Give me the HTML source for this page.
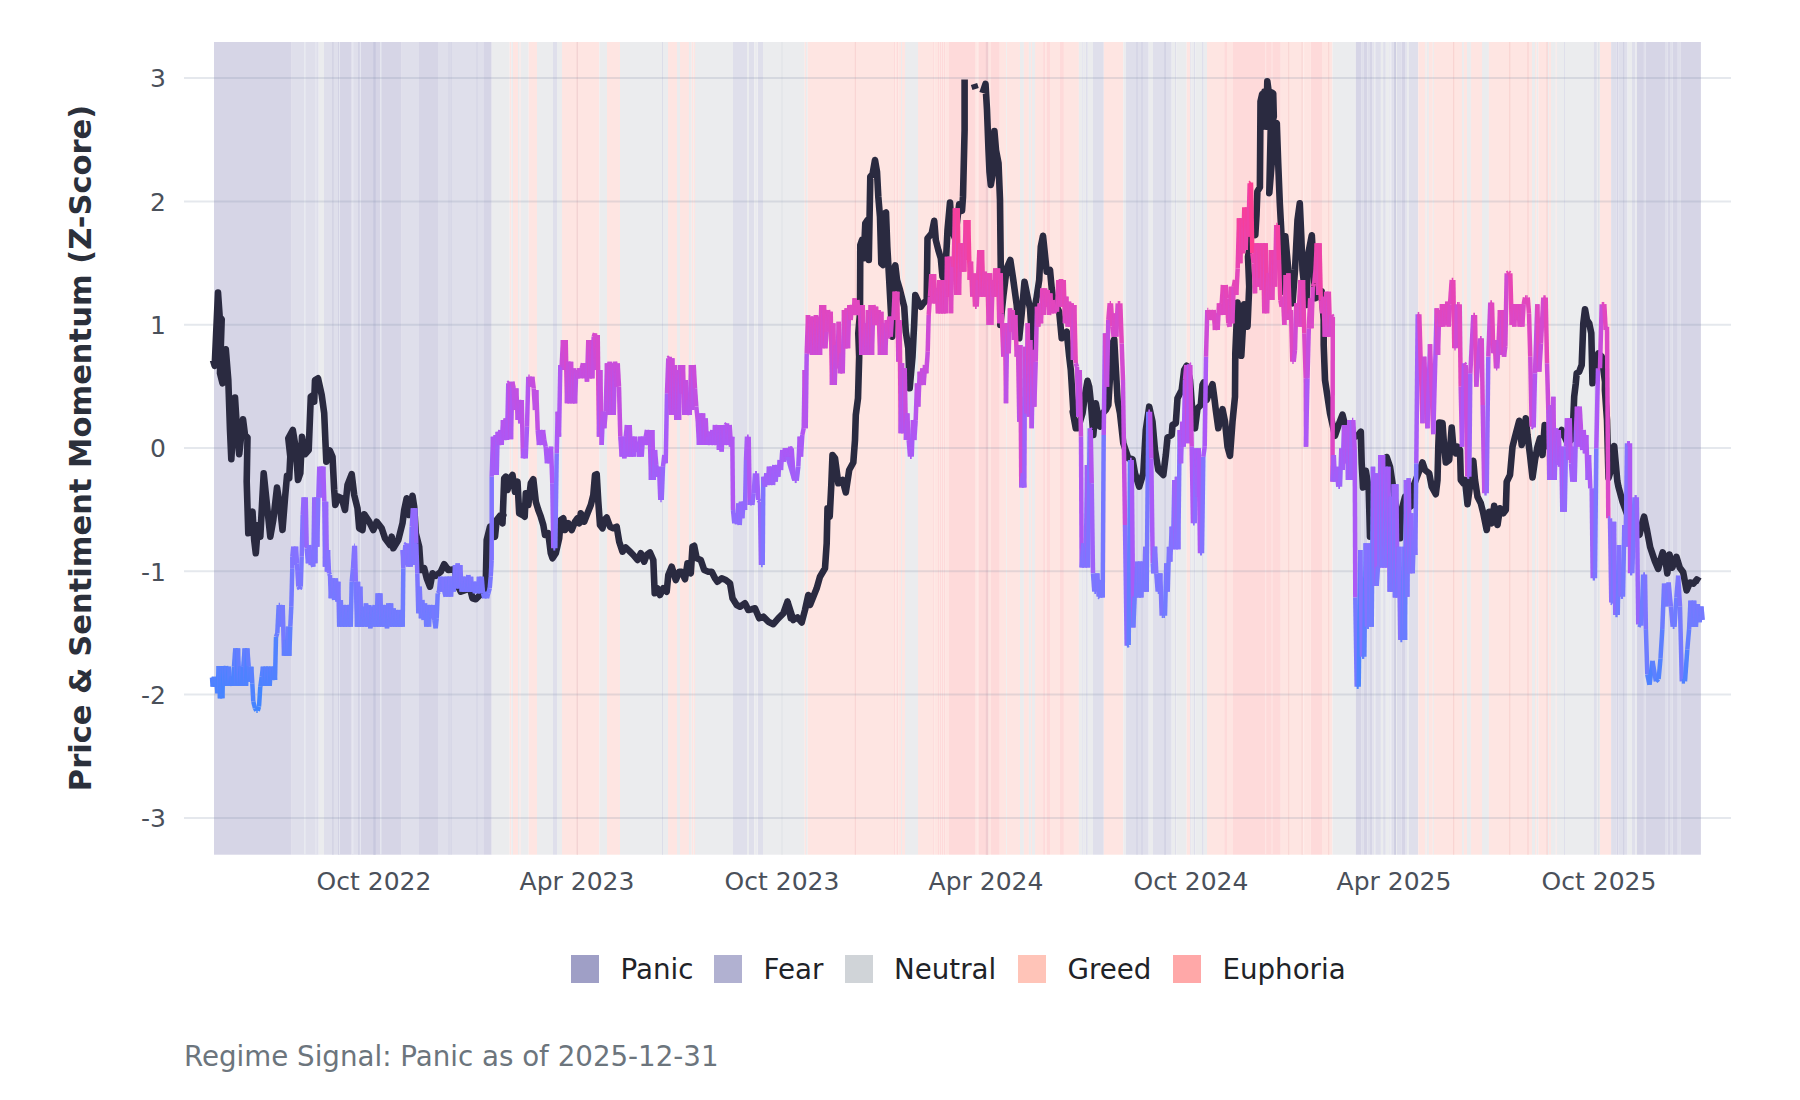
<!DOCTYPE html><html><head><meta charset="utf-8"><title>Regime Signal</title><style>html,body{margin:0;padding:0;background:#fff}body{width:1800px;height:1100px;position:relative;overflow:hidden}</style></head><body><svg width="1800" height="1100" viewBox="0 0 1800 1100" style="position:absolute;left:0;top:0">
<rect width="1800" height="1100" fill="#fff"/>
<g >
<rect x="214" y="42" width="77.7" height="812.7" fill="#d6d5e6"/>
<rect x="291.7" y="42" width="27" height="812.7" fill="#dfdfeb"/>
<rect x="318.7" y="42" width="5.3" height="812.7" fill="#ebecee"/>
<rect x="324" y="42" width="14.3" height="812.7" fill="#dfdfeb"/>
<rect x="338.3" y="42" width="13.4" height="812.7" fill="#d6d5e6"/>
<rect x="351.7" y="42" width="9.1" height="812.7" fill="#dfdfeb"/>
<rect x="360.8" y="42" width="40.9" height="812.7" fill="#d6d5e6"/>
<rect x="401.7" y="42" width="17.3" height="812.7" fill="#dfdfeb"/>
<rect x="419" y="42" width="19" height="812.7" fill="#d6d5e6"/>
<rect x="438" y="42" width="45.3" height="812.7" fill="#dfdfeb"/>
<rect x="483.3" y="42" width="8.4" height="812.7" fill="#d6d5e6"/>
<rect x="491.7" y="42" width="18" height="812.7" fill="#ebecee"/>
<rect x="509.7" y="42" width="1.6" height="812.7" fill="#fee5e2"/>
<rect x="511.3" y="42" width="1.7" height="812.7" fill="#ebecee"/>
<rect x="513" y="42" width="5" height="812.7" fill="#fee5e2"/>
<rect x="518" y="42" width="1.7" height="812.7" fill="#ebecee"/>
<rect x="519.7" y="42" width="1" height="812.7" fill="#fee5e2"/>
<rect x="520.7" y="42" width="8" height="812.7" fill="#ebecee"/>
<rect x="528.7" y="42" width="8.3" height="812.7" fill="#fee5e2"/>
<rect x="537" y="42" width="16" height="812.7" fill="#ebecee"/>
<rect x="553" y="42" width="4" height="812.7" fill="#dfdfeb"/>
<rect x="557" y="42" width="5" height="812.7" fill="#ebecee"/>
<rect x="562" y="42" width="37.3" height="812.7" fill="#fee5e2"/>
<rect x="599.3" y="42" width="7.7" height="812.7" fill="#ebecee"/>
<rect x="607" y="42" width="13" height="812.7" fill="#fee5e2"/>
<rect x="620" y="42" width="48" height="812.7" fill="#ebecee"/>
<rect x="668" y="42" width="9" height="812.7" fill="#fee5e2"/>
<rect x="677" y="42" width="3" height="812.7" fill="#ebecee"/>
<rect x="680" y="42" width="9" height="812.7" fill="#fee5e2"/>
<rect x="689" y="42" width="2.7" height="812.7" fill="#ebecee"/>
<rect x="691.7" y="42" width="1.3" height="812.7" fill="#fee5e2"/>
<rect x="693" y="42" width="0.7" height="812.7" fill="#ebecee"/>
<rect x="693.7" y="42" width="1.3" height="812.7" fill="#fee5e2"/>
<rect x="695" y="42" width="38" height="812.7" fill="#ebecee"/>
<rect x="733" y="42" width="14" height="812.7" fill="#dfdfeb"/>
<rect x="747" y="42" width="2" height="812.7" fill="#ebecee"/>
<rect x="749" y="42" width="5.2" height="812.7" fill="#dfdfeb"/>
<rect x="754.2" y="42" width="2.3" height="812.7" fill="#ebecee"/>
<rect x="756.5" y="42" width="0.7" height="812.7" fill="#dfdfeb"/>
<rect x="757.2" y="42" width="0.8" height="812.7" fill="#ebecee"/>
<rect x="758" y="42" width="5" height="812.7" fill="#dfdfeb"/>
<rect x="763" y="42" width="41.7" height="812.7" fill="#ebecee"/>
<rect x="804.7" y="42" width="1.3" height="812.7" fill="#fee5e2"/>
<rect x="806" y="42" width="1.7" height="812.7" fill="#ebecee"/>
<rect x="807.7" y="42" width="86.3" height="812.7" fill="#fee5e2"/>
<rect x="894" y="42" width="1.3" height="812.7" fill="#fedada"/>
<rect x="895.3" y="42" width="1.7" height="812.7" fill="#fee5e2"/>
<rect x="897" y="42" width="1.2" height="812.7" fill="#fedada"/>
<rect x="898.2" y="42" width="2.8" height="812.7" fill="#fee5e2"/>
<rect x="901" y="42" width="1" height="812.7" fill="#ebecee"/>
<rect x="902" y="42" width="3" height="812.7" fill="#fee5e2"/>
<rect x="905" y="42" width="13" height="812.7" fill="#ebecee"/>
<rect x="918" y="42" width="15.1" height="812.7" fill="#fee5e2"/>
<rect x="933.1" y="42" width="1.1" height="812.7" fill="#fedada"/>
<rect x="934.2" y="42" width="3.8" height="812.7" fill="#fee5e2"/>
<rect x="938" y="42" width="1" height="812.7" fill="#fedada"/>
<rect x="939" y="42" width="0.8" height="812.7" fill="#fee5e2"/>
<rect x="939.8" y="42" width="1.3" height="812.7" fill="#fedada"/>
<rect x="941.1" y="42" width="0.9" height="812.7" fill="#fee5e2"/>
<rect x="942" y="42" width="1.1" height="812.7" fill="#fedada"/>
<rect x="943.1" y="42" width="0.8" height="812.7" fill="#fee5e2"/>
<rect x="943.9" y="42" width="1.7" height="812.7" fill="#fedada"/>
<rect x="945.6" y="42" width="3.3" height="812.7" fill="#fee5e2"/>
<rect x="948.9" y="42" width="26.1" height="812.7" fill="#fedada"/>
<rect x="975" y="42" width="1.7" height="812.7" fill="#fee5e2"/>
<rect x="976.7" y="42" width="0.6" height="812.7" fill="#fedada"/>
<rect x="977.3" y="42" width="1.6" height="812.7" fill="#fee5e2"/>
<rect x="978.9" y="42" width="9.4" height="812.7" fill="#fedada"/>
<rect x="988.3" y="42" width="2.6" height="812.7" fill="#fee5e2"/>
<rect x="990.9" y="42" width="8.9" height="812.7" fill="#fedada"/>
<rect x="999.8" y="42" width="6.3" height="812.7" fill="#fee5e2"/>
<rect x="1006.1" y="42" width="0.8" height="812.7" fill="#ebecee"/>
<rect x="1006.9" y="42" width="13.1" height="812.7" fill="#fee5e2"/>
<rect x="1020" y="42" width="3.9" height="812.7" fill="#ebecee"/>
<rect x="1023.9" y="42" width="5" height="812.7" fill="#fee5e2"/>
<rect x="1028.9" y="42" width="2" height="812.7" fill="#ebecee"/>
<rect x="1030.9" y="42" width="1.1" height="812.7" fill="#fee5e2"/>
<rect x="1032" y="42" width="3" height="812.7" fill="#ebecee"/>
<rect x="1035" y="42" width="8.1" height="812.7" fill="#fee5e2"/>
<rect x="1043.1" y="42" width="2.5" height="812.7" fill="#fedada"/>
<rect x="1045.6" y="42" width="1.3" height="812.7" fill="#fee5e2"/>
<rect x="1046.9" y="42" width="3.1" height="812.7" fill="#fedada"/>
<rect x="1050" y="42" width="10" height="812.7" fill="#fee5e2"/>
<rect x="1060" y="42" width="3.9" height="812.7" fill="#fedada"/>
<rect x="1063.9" y="42" width="15" height="812.7" fill="#fee5e2"/>
<rect x="1078.9" y="42" width="3.1" height="812.7" fill="#ebecee"/>
<rect x="1082" y="42" width="0.8" height="812.7" fill="#dfdfeb"/>
<rect x="1082.8" y="42" width="1.1" height="812.7" fill="#ebecee"/>
<rect x="1083.9" y="42" width="0.8" height="812.7" fill="#dfdfeb"/>
<rect x="1084.7" y="42" width="1.3" height="812.7" fill="#ebecee"/>
<rect x="1086" y="42" width="1.8" height="812.7" fill="#dfdfeb"/>
<rect x="1087.8" y="42" width="5.2" height="812.7" fill="#ebecee"/>
<rect x="1093" y="42" width="10.8" height="812.7" fill="#dfdfeb"/>
<rect x="1103.8" y="42" width="19.5" height="812.7" fill="#fee5e2"/>
<rect x="1123.3" y="42" width="2.5" height="812.7" fill="#ebecee"/>
<rect x="1125.8" y="42" width="22.9" height="812.7" fill="#dfdfeb"/>
<rect x="1148.7" y="42" width="4.3" height="812.7" fill="#ebecee"/>
<rect x="1153" y="42" width="18.7" height="812.7" fill="#dfdfeb"/>
<rect x="1171.7" y="42" width="3.3" height="812.7" fill="#ebecee"/>
<rect x="1175" y="42" width="1.3" height="812.7" fill="#dfdfeb"/>
<rect x="1176.3" y="42" width="10.4" height="812.7" fill="#ebecee"/>
<rect x="1186.7" y="42" width="3.6" height="812.7" fill="#fee5e2"/>
<rect x="1190.3" y="42" width="1.2" height="812.7" fill="#dfdfeb"/>
<rect x="1191.5" y="42" width="2.2" height="812.7" fill="#ebecee"/>
<rect x="1193.7" y="42" width="1.6" height="812.7" fill="#dfdfeb"/>
<rect x="1195.3" y="42" width="6.7" height="812.7" fill="#ebecee"/>
<rect x="1202" y="42" width="1.7" height="812.7" fill="#dfdfeb"/>
<rect x="1203.7" y="42" width="3.3" height="812.7" fill="#ebecee"/>
<rect x="1207" y="42" width="17.2" height="812.7" fill="#fee5e2"/>
<rect x="1224.2" y="42" width="2.8" height="812.7" fill="#fedada"/>
<rect x="1227" y="42" width="6" height="812.7" fill="#fee5e2"/>
<rect x="1233" y="42" width="47.8" height="812.7" fill="#fedada"/>
<rect x="1280.8" y="42" width="30" height="812.7" fill="#fee5e2"/>
<rect x="1310.8" y="42" width="11.2" height="812.7" fill="#fedada"/>
<rect x="1322" y="42" width="10.5" height="812.7" fill="#fee5e2"/>
<rect x="1332.5" y="42" width="23.4" height="812.7" fill="#ebecee"/>
<rect x="1355.9" y="42" width="5.2" height="812.7" fill="#d6d5e6"/>
<rect x="1361.1" y="42" width="2.8" height="812.7" fill="#dfdfeb"/>
<rect x="1363.9" y="42" width="3.3" height="812.7" fill="#d6d5e6"/>
<rect x="1367.2" y="42" width="2.8" height="812.7" fill="#dfdfeb"/>
<rect x="1370" y="42" width="2.2" height="812.7" fill="#d6d5e6"/>
<rect x="1372.2" y="42" width="1.7" height="812.7" fill="#dfdfeb"/>
<rect x="1373.9" y="42" width="1.4" height="812.7" fill="#ebecee"/>
<rect x="1375.3" y="42" width="5.6" height="812.7" fill="#dfdfeb"/>
<rect x="1380.9" y="42" width="2.2" height="812.7" fill="#ebecee"/>
<rect x="1383.1" y="42" width="2.7" height="812.7" fill="#dfdfeb"/>
<rect x="1385.8" y="42" width="3.6" height="812.7" fill="#ebecee"/>
<rect x="1389.4" y="42" width="1.1" height="812.7" fill="#dfdfeb"/>
<rect x="1390.5" y="42" width="0.8" height="812.7" fill="#ebecee"/>
<rect x="1391.3" y="42" width="2.6" height="812.7" fill="#dfdfeb"/>
<rect x="1393.9" y="42" width="1.7" height="812.7" fill="#d6d5e6"/>
<rect x="1395.6" y="42" width="1.3" height="812.7" fill="#ebecee"/>
<rect x="1396.9" y="42" width="4.8" height="812.7" fill="#dfdfeb"/>
<rect x="1401.7" y="42" width="3.9" height="812.7" fill="#d6d5e6"/>
<rect x="1405.6" y="42" width="1.3" height="812.7" fill="#dfdfeb"/>
<rect x="1406.9" y="42" width="2" height="812.7" fill="#ebecee"/>
<rect x="1408.9" y="42" width="9.4" height="812.7" fill="#dfdfeb"/>
<rect x="1418.3" y="42" width="6.7" height="812.7" fill="#fee5e2"/>
<rect x="1425" y="42" width="0.8" height="812.7" fill="#ebecee"/>
<rect x="1425.8" y="42" width="0.9" height="812.7" fill="#fee5e2"/>
<rect x="1426.7" y="42" width="2.2" height="812.7" fill="#ebecee"/>
<rect x="1428.9" y="42" width="3.9" height="812.7" fill="#fee5e2"/>
<rect x="1432.8" y="42" width="1.1" height="812.7" fill="#ebecee"/>
<rect x="1433.9" y="42" width="28.1" height="812.7" fill="#fee5e2"/>
<rect x="1462" y="42" width="1.9" height="812.7" fill="#ebecee"/>
<rect x="1463.9" y="42" width="3.1" height="812.7" fill="#fee5e2"/>
<rect x="1467" y="42" width="3.9" height="812.7" fill="#ebecee"/>
<rect x="1470.9" y="42" width="11.1" height="812.7" fill="#fee5e2"/>
<rect x="1482" y="42" width="6.9" height="812.7" fill="#ebecee"/>
<rect x="1488.9" y="42" width="43.1" height="812.7" fill="#fee5e2"/>
<rect x="1532" y="42" width="3" height="812.7" fill="#ebecee"/>
<rect x="1535" y="42" width="1.7" height="812.7" fill="#fee5e2"/>
<rect x="1536.7" y="42" width="1.6" height="812.7" fill="#ebecee"/>
<rect x="1538.3" y="42" width="8.9" height="812.7" fill="#fee5e2"/>
<rect x="1547.2" y="42" width="1.7" height="812.7" fill="#ebecee"/>
<rect x="1548.9" y="42" width="2.1" height="812.7" fill="#fee5e2"/>
<rect x="1551" y="42" width="4.8" height="812.7" fill="#ebecee"/>
<rect x="1555.8" y="42" width="0.9" height="812.7" fill="#fee5e2"/>
<rect x="1556.7" y="42" width="37.2" height="812.7" fill="#ebecee"/>
<rect x="1593.9" y="42" width="3" height="812.7" fill="#dfdfeb"/>
<rect x="1596.9" y="42" width="0.9" height="812.7" fill="#ebecee"/>
<rect x="1597.8" y="42" width="0.7" height="812.7" fill="#dfdfeb"/>
<rect x="1598.5" y="42" width="1.5" height="812.7" fill="#ebecee"/>
<rect x="1600" y="42" width="11.1" height="812.7" fill="#fee5e2"/>
<rect x="1611.1" y="42" width="5.6" height="812.7" fill="#dfdfeb"/>
<rect x="1616.7" y="42" width="1.6" height="812.7" fill="#d6d5e6"/>
<rect x="1618.3" y="42" width="9.3" height="812.7" fill="#dfdfeb"/>
<rect x="1627.6" y="42" width="4.4" height="812.7" fill="#ebecee"/>
<rect x="1632" y="42" width="3.6" height="812.7" fill="#dfdfeb"/>
<rect x="1635.6" y="42" width="1.3" height="812.7" fill="#ebecee"/>
<rect x="1636.9" y="42" width="7" height="812.7" fill="#d6d5e6"/>
<rect x="1643.9" y="42" width="1.9" height="812.7" fill="#dfdfeb"/>
<rect x="1645.8" y="42" width="19.2" height="812.7" fill="#d6d5e6"/>
<rect x="1665" y="42" width="2.8" height="812.7" fill="#dfdfeb"/>
<rect x="1667.8" y="42" width="2.2" height="812.7" fill="#d6d5e6"/>
<rect x="1670" y="42" width="2.8" height="812.7" fill="#dfdfeb"/>
<rect x="1672.8" y="42" width="5" height="812.7" fill="#d6d5e6"/>
<rect x="1677.8" y="42" width="3.1" height="812.7" fill="#dfdfeb"/>
<rect x="1680.9" y="42" width="20" height="812.7" fill="#d6d5e6"/>
<rect x="304.3" y="42" width="1.2" height="812.7" fill="#eceef3"/>
<rect x="315.4" y="42" width="1" height="812.7" fill="#e9eaf2"/>
<rect x="352" y="42" width="1.6" height="812.7" fill="#e6e7f0"/>
<rect x="380.2" y="42" width="1.2" height="812.7" fill="#e9eaf2"/>
<rect x="359.9" y="42" width="1" height="812.7" fill="#e6e7f0"/>
<rect x="339" y="42" width="0.9" height="812.7" fill="#e6e7f0"/>
<rect x="332.3" y="42" width="1.2" height="812.7" fill="#cfcfe2"/>
<rect x="373.3" y="42" width="2.4" height="812.7" fill="#c8c8de"/>
<rect x="358.2" y="42" width="1.4" height="812.7" fill="#d0d0e3"/>
<rect x="338.2" y="42" width="0.8" height="812.7" fill="#d0d0e3"/>
<rect x="448.5" y="42" width="1" height="812.7" fill="#d3d3e5"/>
<rect x="450.6" y="42" width="1" height="812.7" fill="#d3d3e5"/>
<rect x="476.5" y="42" width="1" height="812.7" fill="#d3d3e5"/>
<rect x="576.6" y="42" width="1.4" height="812.7" fill="#f3d3d3"/>
<rect x="662" y="42" width="1" height="812.7" fill="#dcdde8"/>
<rect x="781.5" y="42" width="1" height="812.7" fill="#dfe1e6"/>
<rect x="854.8" y="42" width="1" height="812.7" fill="#f8d2d0"/>
<rect x="985.8" y="42" width="2.5" height="812.7" fill="#f0ccd0"/>
<rect x="1136.5" y="42" width="1" height="812.7" fill="#d0d0e3"/>
<rect x="1141.5" y="42" width="1" height="812.7" fill="#d0d0e3"/>
<rect x="1164.3" y="42" width="1.5" height="812.7" fill="#d0d0e3"/>
<rect x="1265.2" y="42" width="1" height="812.7" fill="#fde8e6"/>
<rect x="1271.5" y="42" width="1" height="812.7" fill="#fde8e6"/>
<rect x="1288.2" y="42" width="1" height="812.7" fill="#f8d4d2"/>
<rect x="1301.6" y="42" width="1" height="812.7" fill="#f8d4d2"/>
<rect x="1303.2" y="42" width="1" height="812.7" fill="#feeeec"/>
<rect x="1328.2" y="42" width="1" height="812.7" fill="#f8d4d2"/>
<rect x="1453.2" y="42" width="1" height="812.7" fill="#f8d0ce"/>
<rect x="1509.3" y="42" width="1" height="812.7" fill="#f8d0ce"/>
<rect x="1527.5" y="42" width="1" height="812.7" fill="#f8d0ce"/>
<rect x="1546.6" y="42" width="1" height="812.7" fill="#f8d0ce"/>
<rect x="1623.2" y="42" width="1" height="812.7" fill="#cfcfe2"/>
<rect x="1394.6" y="42" width="1.2" height="812.7" fill="#c8c8de"/>
<rect x="1564" y="42" width="0.8" height="812.7" fill="#dcdcea"/>
<rect x="1598.2" y="42" width="1" height="812.7" fill="#dde0e6"/>
</g>
<line x1="184" x2="1731" y1="817.9" y2="817.9" stroke="#7f8aa3" stroke-opacity="0.2" stroke-width="2"/>
<line x1="184" x2="1731" y1="694.6" y2="694.6" stroke="#7f8aa3" stroke-opacity="0.2" stroke-width="2"/>
<line x1="184" x2="1731" y1="571.3" y2="571.3" stroke="#7f8aa3" stroke-opacity="0.2" stroke-width="2"/>
<line x1="184" x2="1731" y1="448.0" y2="448.0" stroke="#7f8aa3" stroke-opacity="0.2" stroke-width="2"/>
<line x1="184" x2="1731" y1="324.7" y2="324.7" stroke="#7f8aa3" stroke-opacity="0.2" stroke-width="2"/>
<line x1="184" x2="1731" y1="201.4" y2="201.4" stroke="#7f8aa3" stroke-opacity="0.2" stroke-width="2"/>
<line x1="184" x2="1731" y1="78.1" y2="78.1" stroke="#7f8aa3" stroke-opacity="0.2" stroke-width="2"/>
<path d="M213 360L214.7 365.8L218 292.5L219.7 316.7L221.7 319.2L220.8 346.7L220 373.3L222.5 383.3L225.8 349.2L228.3 380L230 430L231.3 459.2L235 397.5L237 430L239.2 454.2L243 419.2L245 435L247.5 437.5L246.7 481.7L248.3 533.3L252.5 511.7L254.2 540L255.8 553.3L258 525L260.3 536.7L263.7 473.3L267.5 510L270.3 536.7L273.3 520L277 487.5L280 506.7L282.5 530L285 498.3L287 475.8L289.2 478.3L290.3 456.7L288.3 438.3L292.8 430L295.8 448.3L298 480L300.3 473.3L302 436.7L305 454.2L308.7 450L310.8 396.7L313.3 395L314.2 401.7L315 380L318 378.3L321.7 395L324.2 413.3L326.3 461.7L329.7 450.3L332.5 456.7L334.2 490L335.3 505L338.3 496.7L341.7 498.3L345 510L347.5 485L351.7 474.2L354.2 495L357.5 508.3L359.2 528.3L362.5 530L364.2 514.2L369.2 521.7L373.3 530L376.7 521.7L381.7 528.3L385 538.3L390 545L391.7 536.7L393.3 548.3L398.3 540L402.5 523.3L404.2 510L406.7 498.3L409.2 515L412.5 495.8L414.2 506.7L415.8 533.3L419.2 546.7L420.8 570L424.2 568.3L426.7 578.3L430 586.7L432.5 573.3L435.8 575.8L440.8 571.7L444.2 564.2L448.3 570L455 569.2L456.7 583.3L460.8 591.7L465.8 590L470 588.3L472.5 598.3L475.8 599.2L480 595L483.3 593.3L485.8 581.7L486.7 540L490 526.7L495 536.7L496.7 520L503.3 515L496.7 520L500 515.8L502.5 523.3L504.2 478.3L505.8 476.7L507.5 490L510 478.3L512.5 475L515 491.7L517.5 481.7L519.2 513.3L522.5 515L524.7 516.7L525.8 493.3L528.3 505L530.8 483.3L533.3 479.2L535.8 501.7L538.3 510L540.8 516.7L543.3 525L545 535L548.3 533.3L550.8 553.3L552.5 558.3L555.8 553.3L559.2 538.3L560.8 520L563.3 518.3L565 530L568.3 523.3L571.7 530L575 521.7L577.5 518.3L579.2 523.3L580.8 513.3L584.2 521.7L587.5 513.3L590.8 505L593.3 495L595 475L596.7 474.2L598.3 501.7L600 525L602.5 528.3L604.2 520L606.7 517.5L610 526.7L613.3 528.3L616.7 526.7L619.2 541.7L622.5 551.7L625.8 547.5L630 551.7L633.3 555L637.5 560L640.8 553.3L644.2 561.7L646.7 555L650 552.5L653.3 560L654.7 593.3L657.5 588.3L660 595L663.3 588.3L666.7 591.7L668.3 575L671.7 566.7L675.8 580L679.2 571.7L681.7 571.7L685 579.2L687.5 563.3L690.8 573.3L692.5 546.7L694.2 545.8L696.7 558.3L700.8 560L704.2 570L708.3 571.7L711.7 571.7L715 578.3L717.5 581.7L721.7 578.3L725.8 580L730 583.3L732.5 598.3L736.7 605L740 606.7L745 603.3L748.3 610L751.7 609.2L755 608.3L759.2 618.3L763.3 616.7L768.3 621.7L773.3 624.2L778.3 618.3L783.3 613.3L787.5 601.7L790.8 615L793.3 620L787.5 601.7L790.8 618.3L794.2 619.2L797.5 617.5L801.7 622.5L805 610L808.3 595L810 605L813.3 596.7L816.7 588.3L820 576.7L825 568.3L826.7 543.3L827.5 508.3L829.7 516.7L831.3 485L832.5 455L835 458.3L838.3 483.3L842.5 480L845.8 492.5L849.2 470L853.3 462.5L855 440L855.8 415L858 398.3L859.2 356.7L858.3 333.3L860 313.3L860.3 245L862 240L863.7 258.3L865.3 223.3L867.5 220L868.8 260L870.3 176.7L872.5 174.2L875 160L877 171.7L878.3 196.7L880 216.7L881.3 263.3L883 265L884.7 213.3L886 212.5L887.3 246.7L889.2 280L891 313.3L892.2 336.7L893.3 296.7L894.3 268.3L895.3 265.3L897 280L900 290L902.5 300L904.2 306.7L905.8 331.7L908.3 348.3L909.7 388.3L912.5 356.7L914.2 323.3L915.3 295L918.3 301.7L920.8 306.7L923.3 303.3L926.7 300L927.5 238.3L931.7 233.3L934.2 220.8L935.8 240L938.3 250L940.8 258.3L942.5 276.7L945 280L947.5 230L950 202.5L951.7 230L955 238.3L959.2 204.2L962 210.8L963 196.7L964.2 146.7L964.6 130L964.6 79.5M974 84L975.6 89M982.5 93L985.5 84L987 110L988.5 150L989.5 172L990.8 185L993 172L994.4 131L996 150L998.5 163L1000 200L1000.8 272L1000.3 325L1003.3 296.7L1006.7 268.3L1010.3 260L1013.3 280L1016.7 305L1019.2 338.3L1021.7 313.3L1024.5 281.7L1027.5 296.7L1030 308.3L1032.5 346.7L1035 306.7L1036.7 296.7L1039.2 280L1040.8 246.7L1043 235.8L1045 255L1046.7 271.7L1050 270L1051.7 288.3L1054.2 306.7L1055.8 305L1059.2 311.7L1061.7 338.3L1066.7 331.7L1069.2 356.7L1070.8 370L1073.3 410L1072.7 411.7L1075.8 428.3L1078 428.3L1082.5 413.3L1085 395L1087.5 380.8L1089.2 386.7L1090.8 401.7L1093.3 435L1095.8 403.3L1100 426.7L1102.5 413.3L1105.8 410L1108.3 405L1110.3 371.7L1112.5 343.3L1114.2 339.2L1116 371.7L1117.7 401.7L1120 413.3L1123.3 443.3L1128.3 458.3L1132.5 459.2L1135 473.3L1139.2 486.7L1143.3 473.3L1145.8 430L1149.2 406.7L1152.5 421.7L1155 450L1158.3 470L1163.3 475L1165.8 455L1167.5 437.5L1171.7 435L1172.5 425L1175.8 423.3L1177.5 398.3L1181.7 390L1184.2 370L1186.7 365.8L1190 380L1192.5 413.3L1195 428.3L1197.5 408.3L1200.8 405L1202.5 385L1203.7 382.5L1206.7 400L1210 390L1212.5 384.2L1214.2 396.7L1215.8 410L1218.3 428.3L1222.5 409.2L1225 421.7L1227.5 446.7L1230 455.8L1232.5 421.7L1235 396.7L1235.3 353.3L1237.5 302.5L1240 320L1241.3 355.8L1244.2 304.2L1247.5 326.7L1249.2 286.7L1248 256.7L1250 245L1252 230L1255.3 235L1256.5 214.7L1257.4 191.4L1259.9 187.3L1260.5 101.6L1262.2 94.1L1263.2 126.6L1264.5 91.6L1266.2 126.6L1267.3 81.3L1268.7 91.6L1269.5 126.6L1271.5 92.4L1273.2 93.3L1273.8 116.6L1270.7 129.9L1269.3 193.1L1272 159.8L1274.3 121.6L1276.8 123.2L1278.2 163.2L1279.8 203.1L1281.5 234.7L1283 291.7L1285.3 236.3L1288.3 270L1290.3 298.3L1292.5 303.3L1295 270L1297.5 220L1299.8 203.3L1301.3 236.7L1302.5 270L1306.3 305L1308.3 253.3L1311.8 235.3L1313.7 270L1315 298.3L1318.3 296.7L1321.7 291.3L1323.7 320L1323.7 345L1325 380L1330 413.3L1335 435.8L1339.2 423.3L1342.5 414.7L1345.8 428.3L1350 436.7L1355 436.7L1358.3 435L1360.8 431.7L1361.7 463.3L1363 487.5L1365.8 470.8L1368.7 488.3L1370 536.7L1370 536.7L1375 530L1381.7 480L1386.7 457L1390 466.7L1392.5 483.3L1396.7 513.3L1400 538.3L1400.8 513.3L1405 496.7L1410 506.7L1412.5 505L1413.3 486.7L1418.3 473.3L1422.5 462.5L1425 470L1429.2 473.3L1431.7 486.7L1435.8 494.2L1437.5 480L1438.3 446.7L1439.2 422.5L1442.5 423L1444.2 446.7L1445.8 462.5L1449.2 460L1451.7 427.5L1453.3 446.7L1455.8 453.3L1457.5 446.7L1460 450L1460.8 480L1463.3 483.3L1465 480L1467.5 504.2L1470.8 480L1473.3 460.8L1475 480L1477.5 496.7L1480.8 503.3L1483.3 513.3L1486.7 530L1489.2 511.7L1491.7 523.3L1494.2 505.8L1497.5 525L1500 508.3L1503.3 513.3L1505.8 510L1506.7 481.7L1510 475L1512.5 446.7L1515 436.7L1519.2 420.8L1521.7 445L1525.8 418.3L1527.5 435L1530 455L1532.5 477.5L1535 460L1537.5 446.7L1540 438.3L1542.5 455L1544.7 425L1546.7 438.3L1548.3 446.7L1555 443.3L1561.7 430L1567.5 443.3L1572.5 438.3L1574.2 396.7L1575.8 383.3L1576.7 373.3L1579.2 371.7L1581.7 365L1583.3 323.3L1585 309.2L1587 320L1589.2 323.3L1591.3 333.3L1592.5 383.3L1595.8 365L1598.3 353.3L1601.7 356.7L1605 381.7L1604.9 390L1607 420L1608.5 478L1611 470L1614.2 446L1617.3 481L1618.4 486.6L1622.5 501.6L1627.5 515.5L1635.5 535.9L1639.5 534.8L1641.8 524.5L1644.1 516.6L1646.8 529.1L1650.2 547.3L1654.8 560.9L1658.2 568.9L1660.9 558.6L1662.7 552.3L1665.5 560.9L1667.3 573.4L1669.5 554.5L1672.3 567.7L1676.4 556.8L1679.8 567.7L1683.2 572.3L1686.6 590.5L1690 582.5L1693.4 583.6L1696.8 579.5L1699.8 581.4" fill="none" stroke="#2a2a40" stroke-width="6.6" stroke-linejoin="round" stroke-linecap="butt"/>
<g stroke-width="4.5" stroke-linecap="butt" fill="none"><line x1="212" y1="677.5" x2="212.7" y2="686.7" stroke="#5281ff"/><line x1="212.7" y1="686.7" x2="214" y2="676.7" stroke="#4d82ff"/><line x1="214" y1="676.7" x2="215" y2="686.7" stroke="#5381ff"/><line x1="215" y1="686.7" x2="216.3" y2="680" stroke="#4d82ff"/><line x1="216.3" y1="680" x2="217.5" y2="693.3" stroke="#5182ff"/><line x1="217.5" y1="693.3" x2="218.7" y2="666" stroke="#4a83ff"/><line x1="218.7" y1="666" x2="220" y2="698.3" stroke="#5980ff"/><line x1="220" y1="698.3" x2="221.3" y2="666" stroke="#4784ff"/><line x1="221.3" y1="666" x2="222.3" y2="698.3" stroke="#5980ff"/><line x1="222.3" y1="698.3" x2="223.3" y2="666" stroke="#4784ff"/><line x1="223.3" y1="666" x2="224.7" y2="685.8" stroke="#5980ff"/><line x1="224.7" y1="685.8" x2="226" y2="666" stroke="#4e82ff"/><line x1="226" y1="666" x2="227.3" y2="685.8" stroke="#5980ff"/><line x1="227.3" y1="685.8" x2="228.7" y2="666.7" stroke="#4e82ff"/><line x1="228.7" y1="666.7" x2="230" y2="685.8" stroke="#5980ff"/><line x1="230" y1="685.8" x2="231.3" y2="676.7" stroke="#4e82ff"/><line x1="231.3" y1="676.7" x2="232.7" y2="685.8" stroke="#5381ff"/><line x1="232.7" y1="685.8" x2="234" y2="666.7" stroke="#4e82ff"/><line x1="234" y1="666.7" x2="235.3" y2="648.3" stroke="#5980ff"/><line x1="235.3" y1="648.3" x2="236.7" y2="685.8" stroke="#637eff"/><line x1="236.7" y1="685.8" x2="238" y2="648.3" stroke="#4e82ff"/><line x1="238" y1="648.3" x2="239.3" y2="685.8" stroke="#637eff"/><line x1="239.3" y1="685.8" x2="240.7" y2="666.7" stroke="#4e82ff"/><line x1="240.7" y1="666.7" x2="242" y2="685.8" stroke="#5980ff"/><line x1="242" y1="685.8" x2="243.3" y2="666.7" stroke="#4e82ff"/><line x1="243.3" y1="666.7" x2="244.7" y2="648.3" stroke="#5980ff"/><line x1="244.7" y1="648.3" x2="246" y2="685.8" stroke="#637eff"/><line x1="246" y1="685.8" x2="247.3" y2="648.3" stroke="#4e82ff"/><line x1="247.3" y1="648.3" x2="248.7" y2="666.7" stroke="#637eff"/><line x1="248.7" y1="666.7" x2="250" y2="681.7" stroke="#5980ff"/><line x1="250" y1="681.7" x2="251.3" y2="666.7" stroke="#5082ff"/><line x1="251.3" y1="666.7" x2="252.3" y2="683.3" stroke="#5980ff"/><line x1="252.3" y1="683.3" x2="253.3" y2="701.7" stroke="#4f82ff"/><line x1="253.3" y1="701.7" x2="255" y2="708.3" stroke="#4584ff"/><line x1="255" y1="708.3" x2="256.3" y2="710.8" stroke="#4185ff"/><line x1="256.3" y1="710.8" x2="257.7" y2="710.8" stroke="#4085ff"/><line x1="257.7" y1="710.8" x2="259" y2="706.7" stroke="#4085ff"/><line x1="259" y1="706.7" x2="260.3" y2="686.7" stroke="#4285ff"/><line x1="260.3" y1="686.7" x2="261.7" y2="676.7" stroke="#4d82ff"/><line x1="261.7" y1="676.7" x2="263" y2="666.7" stroke="#5381ff"/><line x1="263" y1="666.7" x2="264.3" y2="685.8" stroke="#5980ff"/><line x1="264.3" y1="685.8" x2="265.7" y2="666.7" stroke="#4e82ff"/><line x1="265.7" y1="666.7" x2="267" y2="685.8" stroke="#5980ff"/><line x1="267" y1="685.8" x2="268.3" y2="666.7" stroke="#4e82ff"/><line x1="268.3" y1="666.7" x2="269.7" y2="685.8" stroke="#5980ff"/><line x1="269.7" y1="685.8" x2="271" y2="666.7" stroke="#4e82ff"/><line x1="271" y1="666.7" x2="272.3" y2="680" stroke="#5980ff"/><line x1="272.3" y1="680" x2="273.7" y2="666.7" stroke="#5182ff"/><line x1="273.7" y1="666.7" x2="275" y2="680" stroke="#5980ff"/><line x1="275" y1="680" x2="276" y2="636.7" stroke="#5182ff"/><line x1="276" y1="636.7" x2="277.3" y2="633.3" stroke="#697dff"/><line x1="277.3" y1="633.3" x2="278.7" y2="605" stroke="#6b7dff"/><line x1="278.7" y1="605" x2="280" y2="605" stroke="#7579ff"/><line x1="280" y1="605" x2="281.3" y2="626.7" stroke="#7579ff"/><line x1="281.3" y1="626.7" x2="282.7" y2="605" stroke="#6f7cff"/><line x1="282.7" y1="605" x2="284" y2="655.8" stroke="#7579ff"/><line x1="284" y1="655.8" x2="285.3" y2="640" stroke="#5f7fff"/><line x1="285.3" y1="640" x2="286.7" y2="655.8" stroke="#687dff"/><line x1="286.7" y1="655.8" x2="288" y2="626.7" stroke="#5f7fff"/><line x1="288" y1="626.7" x2="289.3" y2="655.8" stroke="#6f7cff"/><line x1="289.3" y1="655.8" x2="290.3" y2="626.7" stroke="#5f7fff"/><line x1="290.3" y1="626.7" x2="291.3" y2="606.7" stroke="#6f7cff"/><line x1="291.3" y1="606.7" x2="292.3" y2="568.3" stroke="#7479ff"/><line x1="292.3" y1="568.3" x2="292.3" y2="556.7" stroke="#7f74ff"/><line x1="292.3" y1="556.7" x2="293.3" y2="546.7" stroke="#8273ff"/><line x1="293.3" y1="546.7" x2="294.7" y2="565" stroke="#8572ff"/><line x1="294.7" y1="565" x2="296" y2="546.7" stroke="#8074ff"/><line x1="296" y1="546.7" x2="297" y2="563.3" stroke="#8572ff"/><line x1="297" y1="563.3" x2="298.3" y2="586.7" stroke="#8074ff"/><line x1="298.3" y1="586.7" x2="299.7" y2="589.2" stroke="#7a77ff"/><line x1="299.7" y1="589.2" x2="300.7" y2="586.7" stroke="#7977ff"/><line x1="300.7" y1="586.7" x2="301.7" y2="556.7" stroke="#7a77ff"/><line x1="301.7" y1="556.7" x2="302.7" y2="515" stroke="#8273ff"/><line x1="302.7" y1="515" x2="303.7" y2="497.5" stroke="#906bfd"/><line x1="303.7" y1="497.5" x2="304.7" y2="546.7" stroke="#9766fb"/><line x1="304.7" y1="546.7" x2="305.7" y2="497.5" stroke="#8572ff"/><line x1="305.7" y1="497.5" x2="306.7" y2="548.3" stroke="#9766fb"/><line x1="306.7" y1="548.3" x2="308" y2="563.3" stroke="#8472ff"/><line x1="308" y1="563.3" x2="309.3" y2="545" stroke="#8074ff"/><line x1="309.3" y1="545" x2="310.7" y2="565" stroke="#8571ff"/><line x1="310.7" y1="565" x2="312" y2="563.3" stroke="#8074ff"/><line x1="312" y1="563.3" x2="313.3" y2="566.7" stroke="#8074ff"/><line x1="313.3" y1="566.7" x2="314.3" y2="497.5" stroke="#7f74ff"/><line x1="314.3" y1="497.5" x2="315.3" y2="563.3" stroke="#9766fb"/><line x1="315.3" y1="563.3" x2="316.3" y2="497.5" stroke="#8074ff"/><line x1="316.3" y1="497.5" x2="317.3" y2="546.7" stroke="#9766fb"/><line x1="317.3" y1="546.7" x2="318.3" y2="497.5" stroke="#8572ff"/><line x1="318.3" y1="497.5" x2="319.3" y2="466.7" stroke="#9766fb"/><line x1="319.3" y1="466.7" x2="320.3" y2="497.5" stroke="#a45df8"/><line x1="320.3" y1="497.5" x2="321.3" y2="466.7" stroke="#9766fb"/><line x1="321.3" y1="466.7" x2="322.3" y2="484.2" stroke="#a45df8"/><line x1="322.3" y1="484.2" x2="323.3" y2="466.7" stroke="#9d62fa"/><line x1="323.3" y1="466.7" x2="324.3" y2="501.7" stroke="#a45df8"/><line x1="324.3" y1="501.7" x2="325" y2="566.7" stroke="#9667fc"/><line x1="325" y1="566.7" x2="326" y2="501.7" stroke="#7f74ff"/><line x1="326" y1="501.7" x2="327" y2="571.7" stroke="#9667fc"/><line x1="327" y1="571.7" x2="328" y2="550" stroke="#7e75ff"/><line x1="328" y1="550" x2="329" y2="573.3" stroke="#8472ff"/><line x1="329" y1="573.3" x2="330" y2="575" stroke="#7d75ff"/><line x1="330" y1="575" x2="330.8" y2="598.3" stroke="#7d75ff"/><line x1="330.8" y1="598.3" x2="332.5" y2="578.3" stroke="#7778ff"/><line x1="332.5" y1="578.3" x2="334.2" y2="600" stroke="#7c76ff"/><line x1="334.2" y1="600" x2="335.8" y2="578.3" stroke="#7679ff"/><line x1="335.8" y1="578.3" x2="337.5" y2="601.7" stroke="#7c76ff"/><line x1="337.5" y1="601.7" x2="338.3" y2="581.7" stroke="#7679ff"/><line x1="338.3" y1="581.7" x2="339.2" y2="626.7" stroke="#7b76ff"/><line x1="339.2" y1="626.7" x2="340.8" y2="600" stroke="#6f7cff"/><line x1="340.8" y1="600" x2="342" y2="626.7" stroke="#7679ff"/><line x1="342" y1="626.7" x2="343.3" y2="605" stroke="#6f7cff"/><line x1="343.3" y1="605" x2="345" y2="626.7" stroke="#7579ff"/><line x1="345" y1="626.7" x2="346.7" y2="605" stroke="#6f7cff"/><line x1="346.7" y1="605" x2="348.3" y2="626.7" stroke="#7579ff"/><line x1="348.3" y1="626.7" x2="349.7" y2="605" stroke="#6f7cff"/><line x1="349.7" y1="605" x2="350.8" y2="626.7" stroke="#7579ff"/><line x1="350.8" y1="626.7" x2="351.7" y2="581.7" stroke="#6f7cff"/><line x1="351.7" y1="581.7" x2="353" y2="568.3" stroke="#7b76ff"/><line x1="353" y1="568.3" x2="354.2" y2="545.8" stroke="#7f74ff"/><line x1="354.2" y1="545.8" x2="355" y2="545.8" stroke="#8571ff"/><line x1="355" y1="545.8" x2="355.8" y2="581.7" stroke="#8571ff"/><line x1="355.8" y1="581.7" x2="357" y2="626.7" stroke="#7b76ff"/><line x1="357" y1="626.7" x2="358" y2="581.7" stroke="#6f7cff"/><line x1="358" y1="581.7" x2="359.2" y2="626.7" stroke="#7b76ff"/><line x1="359.2" y1="626.7" x2="360.3" y2="586.7" stroke="#6f7cff"/><line x1="360.3" y1="586.7" x2="361.7" y2="626.7" stroke="#7a77ff"/><line x1="361.7" y1="626.7" x2="363.3" y2="606.7" stroke="#6f7cff"/><line x1="363.3" y1="606.7" x2="364.7" y2="626.7" stroke="#7479ff"/><line x1="364.7" y1="626.7" x2="366" y2="603.3" stroke="#6f7cff"/><line x1="366" y1="603.3" x2="367.5" y2="626.7" stroke="#7579ff"/><line x1="367.5" y1="626.7" x2="369.2" y2="605" stroke="#6f7cff"/><line x1="369.2" y1="605" x2="370.3" y2="628.3" stroke="#7579ff"/><line x1="370.3" y1="628.3" x2="371.7" y2="606.7" stroke="#6e7cff"/><line x1="371.7" y1="606.7" x2="373.3" y2="626.7" stroke="#7479ff"/><line x1="373.3" y1="626.7" x2="374.7" y2="605" stroke="#6f7cff"/><line x1="374.7" y1="605" x2="376.3" y2="626.7" stroke="#7579ff"/><line x1="376.3" y1="626.7" x2="377.7" y2="593.3" stroke="#6f7cff"/><line x1="377.7" y1="593.3" x2="379" y2="626.7" stroke="#7878ff"/><line x1="379" y1="626.7" x2="380.3" y2="593.3" stroke="#6f7cff"/><line x1="380.3" y1="593.3" x2="381.7" y2="626.7" stroke="#7878ff"/><line x1="381.7" y1="626.7" x2="383" y2="605" stroke="#6f7cff"/><line x1="383" y1="605" x2="384.3" y2="626.7" stroke="#7579ff"/><line x1="384.3" y1="626.7" x2="385.7" y2="605" stroke="#6f7cff"/><line x1="385.7" y1="605" x2="387" y2="628.3" stroke="#7579ff"/><line x1="387" y1="628.3" x2="388.3" y2="603.3" stroke="#6e7cff"/><line x1="388.3" y1="603.3" x2="389.7" y2="626.7" stroke="#7579ff"/><line x1="389.7" y1="626.7" x2="391" y2="603.3" stroke="#6f7cff"/><line x1="391" y1="603.3" x2="392.3" y2="626.7" stroke="#7579ff"/><line x1="392.3" y1="626.7" x2="393.7" y2="608.3" stroke="#6f7cff"/><line x1="393.7" y1="608.3" x2="395" y2="626.7" stroke="#747aff"/><line x1="395" y1="626.7" x2="396.3" y2="610" stroke="#6f7cff"/><line x1="396.3" y1="610" x2="397.7" y2="626.7" stroke="#747aff"/><line x1="397.7" y1="626.7" x2="399" y2="610" stroke="#6f7cff"/><line x1="399" y1="610" x2="400.3" y2="626.7" stroke="#747aff"/><line x1="400.3" y1="626.7" x2="401.7" y2="610" stroke="#6f7cff"/><line x1="401.7" y1="610" x2="402.7" y2="626.7" stroke="#747aff"/><line x1="402.7" y1="626.7" x2="403.3" y2="568.3" stroke="#6f7cff"/><line x1="403.3" y1="568.3" x2="402.7" y2="550" stroke="#7f74ff"/><line x1="402.7" y1="550" x2="404" y2="565" stroke="#8472ff"/><line x1="404" y1="565" x2="405.3" y2="545" stroke="#8074ff"/><line x1="405.3" y1="545" x2="406.7" y2="543.3" stroke="#8571ff"/><line x1="406.7" y1="543.3" x2="408" y2="566.7" stroke="#8671ff"/><line x1="408" y1="566.7" x2="409.3" y2="546.7" stroke="#7f74ff"/><line x1="409.3" y1="546.7" x2="410.7" y2="566.7" stroke="#8572ff"/><line x1="410.7" y1="566.7" x2="411.7" y2="526.7" stroke="#7f74ff"/><line x1="411.7" y1="526.7" x2="413" y2="508.3" stroke="#8b6efe"/><line x1="413" y1="508.3" x2="414.3" y2="565" stroke="#9369fc"/><line x1="414.3" y1="565" x2="415.3" y2="508.3" stroke="#8074ff"/><line x1="415.3" y1="508.3" x2="416.3" y2="543.3" stroke="#9369fc"/><line x1="416.3" y1="543.3" x2="417.3" y2="573.3" stroke="#8671ff"/><line x1="417.3" y1="573.3" x2="418.3" y2="613.3" stroke="#7d75ff"/><line x1="418.3" y1="613.3" x2="419.7" y2="586.7" stroke="#737aff"/><line x1="419.7" y1="586.7" x2="421" y2="618.3" stroke="#7a77ff"/><line x1="421" y1="618.3" x2="422.3" y2="600" stroke="#717bff"/><line x1="422.3" y1="600" x2="423.7" y2="620" stroke="#7679ff"/><line x1="423.7" y1="620" x2="425" y2="603.3" stroke="#717bff"/><line x1="425" y1="603.3" x2="426.3" y2="626.7" stroke="#7579ff"/><line x1="426.3" y1="626.7" x2="427.7" y2="605" stroke="#6f7cff"/><line x1="427.7" y1="605" x2="429" y2="626.7" stroke="#7579ff"/><line x1="429" y1="626.7" x2="430.3" y2="605" stroke="#6f7cff"/><line x1="430.3" y1="605" x2="431.7" y2="618.3" stroke="#7579ff"/><line x1="431.7" y1="618.3" x2="433" y2="605" stroke="#717bff"/><line x1="433" y1="605" x2="434.3" y2="620" stroke="#7579ff"/><line x1="434.3" y1="620" x2="435.7" y2="628.3" stroke="#717bff"/><line x1="435.7" y1="628.3" x2="436.7" y2="618.3" stroke="#6e7cff"/><line x1="436.7" y1="618.3" x2="437.7" y2="593.3" stroke="#717bff"/><line x1="437.7" y1="593.3" x2="439" y2="591.7" stroke="#7878ff"/><line x1="439" y1="591.7" x2="440.3" y2="576.7" stroke="#7877ff"/><line x1="440.3" y1="576.7" x2="441.7" y2="591.7" stroke="#7d76ff"/><line x1="441.7" y1="591.7" x2="443" y2="576.7" stroke="#7877ff"/><line x1="443" y1="576.7" x2="444.3" y2="591.7" stroke="#7d76ff"/><line x1="444.3" y1="591.7" x2="445.7" y2="596.7" stroke="#7877ff"/><line x1="445.7" y1="596.7" x2="447" y2="576.7" stroke="#7778ff"/><line x1="447" y1="576.7" x2="448.3" y2="596.7" stroke="#7d76ff"/><line x1="448.3" y1="596.7" x2="449.7" y2="576.7" stroke="#7778ff"/><line x1="449.7" y1="576.7" x2="451" y2="596.7" stroke="#7d76ff"/><line x1="451" y1="596.7" x2="452.3" y2="576.7" stroke="#7778ff"/><line x1="452.3" y1="576.7" x2="453.7" y2="591.7" stroke="#7d76ff"/><line x1="453.7" y1="591.7" x2="455" y2="565" stroke="#7877ff"/><line x1="455" y1="565" x2="456.3" y2="588.3" stroke="#8074ff"/><line x1="456.3" y1="588.3" x2="457.7" y2="563.3" stroke="#7977ff"/><line x1="457.7" y1="563.3" x2="459" y2="588.3" stroke="#8074ff"/><line x1="459" y1="588.3" x2="460.3" y2="565" stroke="#7977ff"/><line x1="460.3" y1="565" x2="461.7" y2="591.7" stroke="#8074ff"/><line x1="461.7" y1="591.7" x2="463" y2="576.7" stroke="#7877ff"/><line x1="463" y1="576.7" x2="464.3" y2="591.7" stroke="#7d76ff"/><line x1="464.3" y1="591.7" x2="465.7" y2="576.7" stroke="#7877ff"/><line x1="465.7" y1="576.7" x2="467" y2="591.7" stroke="#7d76ff"/><line x1="467" y1="591.7" x2="468.3" y2="575" stroke="#7877ff"/><line x1="468.3" y1="575" x2="469.7" y2="591.7" stroke="#7d75ff"/><line x1="469.7" y1="591.7" x2="471" y2="576.7" stroke="#7877ff"/><line x1="471" y1="576.7" x2="472.3" y2="591.7" stroke="#7d76ff"/><line x1="472.3" y1="591.7" x2="473.7" y2="581.7" stroke="#7877ff"/><line x1="473.7" y1="581.7" x2="475" y2="593.3" stroke="#7b76ff"/><line x1="475" y1="593.3" x2="476.3" y2="581.7" stroke="#7878ff"/><line x1="476.3" y1="581.7" x2="477.7" y2="593.3" stroke="#7b76ff"/><line x1="477.7" y1="593.3" x2="479" y2="576.7" stroke="#7878ff"/><line x1="479" y1="576.7" x2="480.3" y2="593.3" stroke="#7d76ff"/><line x1="480.3" y1="593.3" x2="481.7" y2="576.7" stroke="#7878ff"/><line x1="481.7" y1="576.7" x2="483" y2="593.3" stroke="#7d76ff"/><line x1="483" y1="593.3" x2="484.3" y2="598.3" stroke="#7878ff"/><line x1="484.3" y1="598.3" x2="485.7" y2="591.7" stroke="#7778ff"/><line x1="485.7" y1="591.7" x2="487" y2="598.3" stroke="#7877ff"/><line x1="487" y1="598.3" x2="488.3" y2="593.3" stroke="#7778ff"/><line x1="488.3" y1="593.3" x2="489.7" y2="588.3" stroke="#7878ff"/><line x1="489.7" y1="588.3" x2="490.7" y2="576.7" stroke="#7977ff"/><line x1="490.7" y1="576.7" x2="491.7" y2="560" stroke="#7d76ff"/><line x1="491.7" y1="560" x2="491.7" y2="476.7" stroke="#8173ff"/><line x1="491.7" y1="476.7" x2="493" y2="436.7" stroke="#a060f9"/><line x1="493" y1="436.7" x2="494.3" y2="475" stroke="#b056f2"/><line x1="494.3" y1="475" x2="495.7" y2="435" stroke="#a160f9"/><line x1="495.7" y1="435" x2="496.7" y2="475" stroke="#b156f2"/><line x1="496.7" y1="475" x2="497.7" y2="431.7" stroke="#a160f9"/><line x1="497.7" y1="431.7" x2="499" y2="445" stroke="#b256f1"/><line x1="499" y1="445" x2="500.3" y2="430" stroke="#ad58f5"/><line x1="500.3" y1="430" x2="501.7" y2="445" stroke="#b255f0"/><line x1="501.7" y1="445" x2="503" y2="420" stroke="#ad58f5"/><line x1="503" y1="420" x2="504.3" y2="440" stroke="#b654ed"/><line x1="504.3" y1="440" x2="505.7" y2="418.3" stroke="#af57f3"/><line x1="505.7" y1="418.3" x2="507" y2="440" stroke="#b754ec"/><line x1="507" y1="440" x2="508.3" y2="383.3" stroke="#af57f3"/><line x1="508.3" y1="383.3" x2="509.7" y2="381.7" stroke="#c34fe0"/><line x1="509.7" y1="381.7" x2="511" y2="439.2" stroke="#c44fe0"/><line x1="511" y1="439.2" x2="512.3" y2="381.7" stroke="#af57f3"/><line x1="512.3" y1="381.7" x2="513.7" y2="388.3" stroke="#c44fe0"/><line x1="513.7" y1="388.3" x2="515" y2="410" stroke="#c150e2"/><line x1="515" y1="410" x2="516.3" y2="388.3" stroke="#ba53e9"/><line x1="516.3" y1="388.3" x2="517.7" y2="420" stroke="#c150e2"/><line x1="517.7" y1="420" x2="519" y2="400" stroke="#b654ed"/><line x1="519" y1="400" x2="520.3" y2="423.3" stroke="#bd51e6"/><line x1="520.3" y1="423.3" x2="521.7" y2="400" stroke="#b555ee"/><line x1="521.7" y1="400" x2="523" y2="458.3" stroke="#bd51e6"/><line x1="523" y1="458.3" x2="524.3" y2="448.3" stroke="#a85bf7"/><line x1="524.3" y1="448.3" x2="525.7" y2="458.3" stroke="#ac58f6"/><line x1="525.7" y1="458.3" x2="527" y2="426.7" stroke="#a85bf7"/><line x1="527" y1="426.7" x2="528.3" y2="376.7" stroke="#b455ef"/><line x1="528.3" y1="376.7" x2="529.7" y2="376.7" stroke="#c54ede"/><line x1="529.7" y1="376.7" x2="531" y2="386.7" stroke="#c54ede"/><line x1="531" y1="386.7" x2="532.3" y2="376.7" stroke="#c24fe1"/><line x1="532.3" y1="376.7" x2="533.7" y2="388.3" stroke="#c54ede"/><line x1="533.7" y1="388.3" x2="535" y2="410" stroke="#c150e2"/><line x1="535" y1="410" x2="536.3" y2="390" stroke="#ba53e9"/><line x1="536.3" y1="390" x2="537.7" y2="430" stroke="#c150e3"/><line x1="537.7" y1="430" x2="539" y2="445" stroke="#b255f0"/><line x1="539" y1="445" x2="540.3" y2="430" stroke="#ad58f5"/><line x1="540.3" y1="430" x2="541.7" y2="445" stroke="#b255f0"/><line x1="541.7" y1="445" x2="543" y2="430" stroke="#ad58f5"/><line x1="543" y1="430" x2="544.3" y2="440" stroke="#b255f0"/><line x1="544.3" y1="440" x2="545.7" y2="446.7" stroke="#af57f3"/><line x1="545.7" y1="446.7" x2="547" y2="463.3" stroke="#ac58f6"/><line x1="547" y1="463.3" x2="548.3" y2="448.3" stroke="#a65cf8"/><line x1="548.3" y1="448.3" x2="549.7" y2="463.3" stroke="#ac58f6"/><line x1="549.7" y1="463.3" x2="551" y2="446.7" stroke="#a65cf8"/><line x1="551" y1="446.7" x2="552.3" y2="483.3" stroke="#ac58f6"/><line x1="552.3" y1="483.3" x2="553.3" y2="548.3" stroke="#9d62fa"/><line x1="553.3" y1="548.3" x2="555.3" y2="548.3" stroke="#8472ff"/><line x1="555.3" y1="548.3" x2="556.7" y2="453.3" stroke="#8472ff"/><line x1="556.7" y1="453.3" x2="557.7" y2="411.7" stroke="#aa59f7"/><line x1="557.7" y1="411.7" x2="559" y2="436.7" stroke="#b953ea"/><line x1="559" y1="436.7" x2="560.3" y2="365" stroke="#b056f2"/><line x1="560.3" y1="365" x2="561.7" y2="365" stroke="#ca4cda"/><line x1="561.7" y1="365" x2="563" y2="340" stroke="#ca4cda"/><line x1="563" y1="340" x2="564.3" y2="370" stroke="#d549ce"/><line x1="564.3" y1="370" x2="565.7" y2="340" stroke="#c84ddc"/><line x1="565.7" y1="340" x2="567" y2="403.3" stroke="#d549ce"/><line x1="567" y1="403.3" x2="568.3" y2="361.7" stroke="#bc52e7"/><line x1="568.3" y1="361.7" x2="569.7" y2="403.3" stroke="#cb4cd9"/><line x1="569.7" y1="403.3" x2="571" y2="361.7" stroke="#bc52e7"/><line x1="571" y1="361.7" x2="572.3" y2="403.3" stroke="#cb4cd9"/><line x1="572.3" y1="403.3" x2="573.7" y2="368.3" stroke="#bc52e7"/><line x1="573.7" y1="368.3" x2="575" y2="403.3" stroke="#c84ddb"/><line x1="575" y1="403.3" x2="576.3" y2="370" stroke="#bc52e7"/><line x1="576.3" y1="370" x2="577.7" y2="378.3" stroke="#c84ddc"/><line x1="577.7" y1="378.3" x2="579" y2="368.3" stroke="#c54edf"/><line x1="579" y1="368.3" x2="580.3" y2="378.3" stroke="#c84ddb"/><line x1="580.3" y1="378.3" x2="581.7" y2="368.3" stroke="#c54edf"/><line x1="581.7" y1="368.3" x2="583" y2="363.3" stroke="#c84ddb"/><line x1="583" y1="363.3" x2="584.3" y2="378.3" stroke="#ca4cda"/><line x1="584.3" y1="378.3" x2="585.7" y2="363.3" stroke="#c54edf"/><line x1="585.7" y1="363.3" x2="587" y2="381.7" stroke="#ca4cda"/><line x1="587" y1="381.7" x2="588.3" y2="340" stroke="#c44fe0"/><line x1="588.3" y1="340" x2="589.7" y2="378.3" stroke="#d549ce"/><line x1="589.7" y1="378.3" x2="591" y2="340" stroke="#c54edf"/><line x1="591" y1="340" x2="592.3" y2="378.3" stroke="#d549ce"/><line x1="592.3" y1="378.3" x2="593.7" y2="336.7" stroke="#c54edf"/><line x1="593.7" y1="336.7" x2="595" y2="333.3" stroke="#d649cd"/><line x1="595" y1="333.3" x2="596.3" y2="370" stroke="#d849cb"/><line x1="596.3" y1="370" x2="597.7" y2="335" stroke="#c84ddc"/><line x1="597.7" y1="335" x2="599" y2="436.7" stroke="#d749cc"/><line x1="599" y1="436.7" x2="600.3" y2="370" stroke="#b056f2"/><line x1="600.3" y1="370" x2="601.7" y2="445" stroke="#c84ddc"/><line x1="601.7" y1="445" x2="603" y2="411.7" stroke="#ad58f5"/><line x1="603" y1="411.7" x2="604.3" y2="428.3" stroke="#b953ea"/><line x1="604.3" y1="428.3" x2="605.7" y2="411.7" stroke="#b355ef"/><line x1="605.7" y1="411.7" x2="607" y2="363.3" stroke="#b953ea"/><line x1="607" y1="363.3" x2="608.3" y2="415" stroke="#ca4cda"/><line x1="608.3" y1="415" x2="609.7" y2="361.7" stroke="#b853eb"/><line x1="609.7" y1="361.7" x2="611" y2="415" stroke="#cb4cd9"/><line x1="611" y1="415" x2="612.3" y2="363.3" stroke="#b853eb"/><line x1="612.3" y1="363.3" x2="613.7" y2="415" stroke="#ca4cda"/><line x1="613.7" y1="415" x2="615" y2="361.7" stroke="#b853eb"/><line x1="615" y1="361.7" x2="616.3" y2="386.7" stroke="#cb4cd9"/><line x1="616.3" y1="386.7" x2="617.7" y2="363.3" stroke="#c24fe1"/><line x1="617.7" y1="363.3" x2="619" y2="386.7" stroke="#ca4cda"/><line x1="619" y1="386.7" x2="620.3" y2="436.7" stroke="#c24fe1"/><line x1="620.3" y1="436.7" x2="621.7" y2="456.7" stroke="#b056f2"/><line x1="621.7" y1="456.7" x2="623" y2="436.7" stroke="#a85af7"/><line x1="623" y1="436.7" x2="624.3" y2="458.3" stroke="#b056f2"/><line x1="624.3" y1="458.3" x2="625.7" y2="436.7" stroke="#a85bf7"/><line x1="625.7" y1="436.7" x2="627" y2="425" stroke="#b056f2"/><line x1="627" y1="425" x2="628.3" y2="456.7" stroke="#b455ee"/><line x1="628.3" y1="456.7" x2="629.7" y2="425" stroke="#a85af7"/><line x1="629.7" y1="425" x2="631" y2="456.7" stroke="#b455ee"/><line x1="631" y1="456.7" x2="632.3" y2="436.7" stroke="#a85af7"/><line x1="632.3" y1="436.7" x2="633.7" y2="456.7" stroke="#b056f2"/><line x1="633.7" y1="456.7" x2="635" y2="436.7" stroke="#a85af7"/><line x1="635" y1="436.7" x2="636.3" y2="451.7" stroke="#b056f2"/><line x1="636.3" y1="451.7" x2="637.7" y2="441.7" stroke="#aa59f6"/><line x1="637.7" y1="441.7" x2="639" y2="456.7" stroke="#ae57f4"/><line x1="639" y1="456.7" x2="640.3" y2="436.7" stroke="#a85af7"/><line x1="640.3" y1="436.7" x2="641.7" y2="456.7" stroke="#b056f2"/><line x1="641.7" y1="456.7" x2="643" y2="436.7" stroke="#a85af7"/><line x1="643" y1="436.7" x2="644.3" y2="445" stroke="#b056f2"/><line x1="644.3" y1="445" x2="645.7" y2="436.7" stroke="#ad58f5"/><line x1="645.7" y1="436.7" x2="647" y2="430" stroke="#b056f2"/><line x1="647" y1="430" x2="648.3" y2="445" stroke="#b255f0"/><line x1="648.3" y1="445" x2="649.7" y2="430" stroke="#ad58f5"/><line x1="649.7" y1="430" x2="651" y2="480" stroke="#b255f0"/><line x1="651" y1="480" x2="652.3" y2="430" stroke="#9f61f9"/><line x1="652.3" y1="430" x2="653.7" y2="480" stroke="#b255f0"/><line x1="653.7" y1="480" x2="655" y2="450" stroke="#9f61f9"/><line x1="655" y1="450" x2="656.3" y2="465" stroke="#ab59f6"/><line x1="656.3" y1="465" x2="657.7" y2="476.7" stroke="#a55df8"/><line x1="657.7" y1="476.7" x2="659" y2="466.7" stroke="#a060f9"/><line x1="659" y1="466.7" x2="660.3" y2="500" stroke="#a45df8"/><line x1="660.3" y1="500" x2="661.7" y2="500" stroke="#9666fb"/><line x1="661.7" y1="500" x2="663" y2="466.7" stroke="#9666fb"/><line x1="663" y1="466.7" x2="664.3" y2="455" stroke="#a45df8"/><line x1="664.3" y1="455" x2="665.7" y2="463.3" stroke="#a95af7"/><line x1="665.7" y1="463.3" x2="667" y2="393.3" stroke="#a65cf8"/><line x1="667" y1="393.3" x2="668.3" y2="358.3" stroke="#c050e4"/><line x1="668.3" y1="358.3" x2="669.7" y2="356.7" stroke="#cc4bd8"/><line x1="669.7" y1="356.7" x2="671" y2="415" stroke="#cd4bd7"/><line x1="671" y1="415" x2="672.3" y2="358.3" stroke="#b853eb"/><line x1="672.3" y1="358.3" x2="673.7" y2="415" stroke="#cc4bd8"/><line x1="673.7" y1="415" x2="675" y2="365" stroke="#b853eb"/><line x1="675" y1="365" x2="676.3" y2="420" stroke="#ca4cda"/><line x1="676.3" y1="420" x2="677.7" y2="370" stroke="#b654ed"/><line x1="677.7" y1="370" x2="679" y2="420" stroke="#c84ddc"/><line x1="679" y1="420" x2="680.3" y2="365" stroke="#b654ed"/><line x1="680.3" y1="365" x2="681.7" y2="393.3" stroke="#ca4cda"/><line x1="681.7" y1="393.3" x2="683" y2="365" stroke="#c050e4"/><line x1="683" y1="365" x2="684.3" y2="415" stroke="#ca4cda"/><line x1="684.3" y1="415" x2="685.7" y2="380" stroke="#b853eb"/><line x1="685.7" y1="380" x2="687" y2="415" stroke="#c44edf"/><line x1="687" y1="415" x2="688.3" y2="400" stroke="#b853eb"/><line x1="688.3" y1="400" x2="689.7" y2="415" stroke="#bd51e6"/><line x1="689.7" y1="415" x2="691" y2="365" stroke="#b853eb"/><line x1="691" y1="365" x2="692.3" y2="410" stroke="#ca4cda"/><line x1="692.3" y1="410" x2="693.7" y2="365" stroke="#ba53e9"/><line x1="693.7" y1="365" x2="695" y2="388.3" stroke="#ca4cda"/><line x1="695" y1="388.3" x2="696.3" y2="406.7" stroke="#c150e2"/><line x1="696.3" y1="406.7" x2="697.7" y2="420" stroke="#bb52e8"/><line x1="697.7" y1="420" x2="699" y2="445" stroke="#b654ed"/><line x1="699" y1="445" x2="700.3" y2="413.3" stroke="#ad58f5"/><line x1="700.3" y1="413.3" x2="701.7" y2="445" stroke="#b853ea"/><line x1="701.7" y1="445" x2="703" y2="413.3" stroke="#ad58f5"/><line x1="703" y1="413.3" x2="704.3" y2="445" stroke="#b853ea"/><line x1="704.3" y1="445" x2="705.7" y2="418.3" stroke="#ad58f5"/><line x1="705.7" y1="418.3" x2="707" y2="445" stroke="#b754ec"/><line x1="707" y1="445" x2="708.3" y2="436.7" stroke="#ad58f5"/><line x1="708.3" y1="436.7" x2="709.7" y2="431.7" stroke="#b056f2"/><line x1="709.7" y1="431.7" x2="711" y2="445" stroke="#b256f1"/><line x1="711" y1="445" x2="712.3" y2="430" stroke="#ad58f5"/><line x1="712.3" y1="430" x2="713.7" y2="445" stroke="#b255f0"/><line x1="713.7" y1="445" x2="715" y2="425" stroke="#ad58f5"/><line x1="715" y1="425" x2="716.3" y2="445" stroke="#b455ee"/><line x1="716.3" y1="445" x2="717.7" y2="425" stroke="#ad58f5"/><line x1="717.7" y1="425" x2="719" y2="450" stroke="#b455ee"/><line x1="719" y1="450" x2="720.3" y2="425" stroke="#ab59f6"/><line x1="720.3" y1="425" x2="721.7" y2="451.7" stroke="#b455ee"/><line x1="721.7" y1="451.7" x2="723" y2="425" stroke="#aa59f6"/><line x1="723" y1="425" x2="724.3" y2="445" stroke="#b455ee"/><line x1="724.3" y1="445" x2="725.7" y2="425" stroke="#ad58f5"/><line x1="725.7" y1="425" x2="727" y2="423.3" stroke="#b455ee"/><line x1="727" y1="423.3" x2="728.3" y2="445" stroke="#b555ee"/><line x1="728.3" y1="445" x2="729.7" y2="425" stroke="#ad58f5"/><line x1="729.7" y1="425" x2="731" y2="446.7" stroke="#b455ee"/><line x1="731" y1="446.7" x2="732.3" y2="436.7" stroke="#ac58f6"/><line x1="732.3" y1="436.7" x2="733" y2="510" stroke="#b056f2"/><line x1="733" y1="510" x2="734.3" y2="523.3" stroke="#9269fc"/><line x1="734.3" y1="523.3" x2="735.7" y2="513.3" stroke="#8d6dfe"/><line x1="735.7" y1="513.3" x2="737" y2="524.2" stroke="#916afd"/><line x1="737" y1="524.2" x2="738.3" y2="503.3" stroke="#8c6dfe"/><line x1="738.3" y1="503.3" x2="739.7" y2="525" stroke="#9567fc"/><line x1="739.7" y1="525" x2="741" y2="501.7" stroke="#8c6dfe"/><line x1="741" y1="501.7" x2="742.3" y2="518.3" stroke="#9667fc"/><line x1="742.3" y1="518.3" x2="743.7" y2="501.7" stroke="#8f6cfd"/><line x1="743.7" y1="501.7" x2="745" y2="510" stroke="#9667fc"/><line x1="745" y1="510" x2="746" y2="460" stroke="#9269fc"/><line x1="746" y1="460" x2="747" y2="436.7" stroke="#a75bf7"/><line x1="747" y1="436.7" x2="748.7" y2="436.7" stroke="#b056f2"/><line x1="748.7" y1="436.7" x2="749.7" y2="505" stroke="#b056f2"/><line x1="749.7" y1="505" x2="751" y2="500" stroke="#9468fc"/><line x1="751" y1="500" x2="752.3" y2="505" stroke="#9666fb"/><line x1="752.3" y1="505" x2="753.7" y2="493.3" stroke="#9468fc"/><line x1="753.7" y1="493.3" x2="755" y2="473.3" stroke="#9965fb"/><line x1="755" y1="473.3" x2="757" y2="473.3" stroke="#a15ff9"/><line x1="757" y1="473.3" x2="758.3" y2="500" stroke="#a15ff9"/><line x1="758.3" y1="500" x2="760" y2="501.7" stroke="#9666fb"/><line x1="760" y1="501.7" x2="761" y2="565" stroke="#9667fc"/><line x1="761" y1="565" x2="762.7" y2="565" stroke="#8074ff"/><line x1="762.7" y1="565" x2="763.3" y2="476.7" stroke="#8074ff"/><line x1="763.3" y1="476.7" x2="765" y2="486.7" stroke="#a060f9"/><line x1="765" y1="486.7" x2="766.3" y2="473.3" stroke="#9c63fa"/><line x1="766.3" y1="473.3" x2="767.7" y2="485" stroke="#a15ff9"/><line x1="767.7" y1="485" x2="769" y2="466.7" stroke="#9d62fa"/><line x1="769" y1="466.7" x2="770.3" y2="485" stroke="#a45df8"/><line x1="770.3" y1="485" x2="771.7" y2="466.7" stroke="#9d62fa"/><line x1="771.7" y1="466.7" x2="773" y2="485" stroke="#a45df8"/><line x1="773" y1="485" x2="774.3" y2="465" stroke="#9d62fa"/><line x1="774.3" y1="465" x2="775.7" y2="481.7" stroke="#a55df8"/><line x1="775.7" y1="481.7" x2="777" y2="465" stroke="#9e61fa"/><line x1="777" y1="465" x2="778.3" y2="476.7" stroke="#a55df8"/><line x1="778.3" y1="476.7" x2="779.7" y2="460" stroke="#a060f9"/><line x1="779.7" y1="460" x2="781" y2="470" stroke="#a75bf7"/><line x1="781" y1="470" x2="782.3" y2="450" stroke="#a35ef8"/><line x1="782.3" y1="450" x2="783.7" y2="461.7" stroke="#ab59f6"/><line x1="783.7" y1="461.7" x2="785" y2="448.3" stroke="#a65cf7"/><line x1="785" y1="448.3" x2="786.3" y2="458.3" stroke="#ac58f6"/><line x1="786.3" y1="458.3" x2="787.7" y2="448.3" stroke="#a85bf7"/><line x1="787.7" y1="448.3" x2="789" y2="458.3" stroke="#ac58f6"/><line x1="789" y1="458.3" x2="790.3" y2="448.3" stroke="#a85bf7"/><line x1="790.3" y1="448.3" x2="791.7" y2="448.3" stroke="#ac58f6"/><line x1="791.7" y1="448.3" x2="793" y2="470" stroke="#ac58f6"/><line x1="793" y1="470" x2="794.3" y2="480" stroke="#a35ef8"/><line x1="794.3" y1="480" x2="785" y2="448.3" stroke="#9f61f9"/><line x1="785" y1="448.3" x2="786.3" y2="456.7" stroke="#ac58f6"/><line x1="786.3" y1="456.7" x2="787.7" y2="448.3" stroke="#a85af7"/><line x1="787.7" y1="448.3" x2="789" y2="456.7" stroke="#ac58f6"/><line x1="789" y1="456.7" x2="790.3" y2="446.7" stroke="#a85af7"/><line x1="790.3" y1="446.7" x2="791.7" y2="456.7" stroke="#ac58f6"/><line x1="791.7" y1="456.7" x2="793" y2="466.7" stroke="#a85af7"/><line x1="793" y1="466.7" x2="794.7" y2="480.8" stroke="#a45df8"/><line x1="794.7" y1="480.8" x2="796.7" y2="480.8" stroke="#9e61f9"/><line x1="796.7" y1="480.8" x2="798.3" y2="466.7" stroke="#9e61f9"/><line x1="798.3" y1="466.7" x2="799.7" y2="436.7" stroke="#a45df8"/><line x1="799.7" y1="436.7" x2="801" y2="456.7" stroke="#b056f2"/><line x1="801" y1="456.7" x2="802.3" y2="435" stroke="#a85af7"/><line x1="802.3" y1="435" x2="803.7" y2="428.3" stroke="#b156f2"/><line x1="803.7" y1="428.3" x2="804.7" y2="370" stroke="#b355ef"/><line x1="804.7" y1="370" x2="805.7" y2="428.3" stroke="#c84ddc"/><line x1="805.7" y1="428.3" x2="806.7" y2="353.3" stroke="#b355ef"/><line x1="806.7" y1="353.3" x2="808" y2="315" stroke="#ce4bd6"/><line x1="808" y1="315" x2="809.3" y2="353.3" stroke="#de47c3"/><line x1="809.3" y1="353.3" x2="810.7" y2="316.7" stroke="#ce4bd6"/><line x1="810.7" y1="316.7" x2="812" y2="355" stroke="#de47c3"/><line x1="812" y1="355" x2="813.3" y2="316.7" stroke="#cd4bd7"/><line x1="813.3" y1="316.7" x2="814.7" y2="355" stroke="#de47c3"/><line x1="814.7" y1="355" x2="816" y2="315" stroke="#cd4bd7"/><line x1="816" y1="315" x2="817.3" y2="355" stroke="#de47c3"/><line x1="817.3" y1="355" x2="818.7" y2="316.7" stroke="#cd4bd7"/><line x1="818.7" y1="316.7" x2="820" y2="355" stroke="#de47c3"/><line x1="820" y1="355" x2="821.3" y2="305" stroke="#cd4bd7"/><line x1="821.3" y1="305" x2="822.7" y2="348.3" stroke="#e047bf"/><line x1="822.7" y1="348.3" x2="824" y2="305" stroke="#d14ad3"/><line x1="824" y1="305" x2="825.3" y2="348.3" stroke="#e047bf"/><line x1="825.3" y1="348.3" x2="826.7" y2="331.7" stroke="#d14ad3"/><line x1="826.7" y1="331.7" x2="828" y2="310" stroke="#d949ca"/><line x1="828" y1="310" x2="829.3" y2="331.7" stroke="#df47c1"/><line x1="829.3" y1="331.7" x2="830.7" y2="311.7" stroke="#d949ca"/><line x1="830.7" y1="311.7" x2="832" y2="385" stroke="#df47c1"/><line x1="832" y1="385" x2="833.3" y2="323.3" stroke="#c24fe1"/><line x1="833.3" y1="323.3" x2="834.7" y2="385" stroke="#dc48c6"/><line x1="834.7" y1="385" x2="836" y2="345" stroke="#c24fe1"/><line x1="836" y1="345" x2="837.3" y2="368.3" stroke="#d24ad1"/><line x1="837.3" y1="368.3" x2="838.7" y2="321.7" stroke="#c84ddb"/><line x1="838.7" y1="321.7" x2="840" y2="373.3" stroke="#dd48c5"/><line x1="840" y1="373.3" x2="841.3" y2="353.3" stroke="#c74ddd"/><line x1="841.3" y1="353.3" x2="842.7" y2="373.3" stroke="#ce4bd6"/><line x1="842.7" y1="373.3" x2="844" y2="310" stroke="#c74ddd"/><line x1="844" y1="310" x2="845.3" y2="348.3" stroke="#df47c1"/><line x1="845.3" y1="348.3" x2="846.7" y2="308.3" stroke="#d14ad3"/><line x1="846.7" y1="308.3" x2="848" y2="348.3" stroke="#e047c0"/><line x1="848" y1="348.3" x2="849.3" y2="305" stroke="#d14ad3"/><line x1="849.3" y1="305" x2="850.7" y2="320" stroke="#e047bf"/><line x1="850.7" y1="320" x2="852" y2="305" stroke="#dd48c4"/><line x1="852" y1="305" x2="853.3" y2="315" stroke="#e047bf"/><line x1="853.3" y1="315" x2="854.7" y2="298.3" stroke="#de47c3"/><line x1="854.7" y1="298.3" x2="856" y2="315" stroke="#e246bd"/><line x1="856" y1="315" x2="857.3" y2="300" stroke="#de47c3"/><line x1="857.3" y1="300" x2="858.7" y2="315" stroke="#e246bd"/><line x1="858.7" y1="315" x2="860" y2="305" stroke="#de47c3"/><line x1="860" y1="305" x2="861.3" y2="355" stroke="#e047bf"/><line x1="861.3" y1="355" x2="862.7" y2="305" stroke="#cd4bd7"/><line x1="862.7" y1="305" x2="864" y2="355" stroke="#e047bf"/><line x1="864" y1="355" x2="865.3" y2="323.3" stroke="#cd4bd7"/><line x1="865.3" y1="323.3" x2="866.7" y2="355" stroke="#dc48c6"/><line x1="866.7" y1="355" x2="868" y2="310" stroke="#cd4bd7"/><line x1="868" y1="310" x2="869.3" y2="355" stroke="#df47c1"/><line x1="869.3" y1="355" x2="870.7" y2="305" stroke="#cd4bd7"/><line x1="870.7" y1="305" x2="872" y2="355" stroke="#e047bf"/><line x1="872" y1="355" x2="873.3" y2="305" stroke="#cd4bd7"/><line x1="873.3" y1="305" x2="874.7" y2="325" stroke="#e047bf"/><line x1="874.7" y1="325" x2="876" y2="306.7" stroke="#dc48c6"/><line x1="876" y1="306.7" x2="877.3" y2="325" stroke="#e047c0"/><line x1="877.3" y1="325" x2="878.7" y2="310" stroke="#dc48c6"/><line x1="878.7" y1="310" x2="880" y2="355" stroke="#df47c1"/><line x1="880" y1="355" x2="881.3" y2="311.7" stroke="#cd4bd7"/><line x1="881.3" y1="311.7" x2="882.7" y2="355" stroke="#df47c1"/><line x1="882.7" y1="355" x2="884" y2="323.3" stroke="#cd4bd7"/><line x1="884" y1="323.3" x2="885.3" y2="355" stroke="#dc48c6"/><line x1="885.3" y1="355" x2="886.7" y2="320" stroke="#cd4bd7"/><line x1="886.7" y1="320" x2="888" y2="338.3" stroke="#dd48c4"/><line x1="888" y1="338.3" x2="889.3" y2="316.7" stroke="#d549ce"/><line x1="889.3" y1="316.7" x2="890.7" y2="336.7" stroke="#de47c3"/><line x1="890.7" y1="336.7" x2="892" y2="316.7" stroke="#d649cd"/><line x1="892" y1="316.7" x2="893.3" y2="320" stroke="#de47c3"/><line x1="893.3" y1="320" x2="894.7" y2="291.7" stroke="#dd48c4"/><line x1="894.7" y1="291.7" x2="896" y2="320" stroke="#e346ba"/><line x1="896" y1="320" x2="897.3" y2="291.7" stroke="#dd48c4"/><line x1="897.3" y1="291.7" x2="898.3" y2="361.7" stroke="#e346ba"/><line x1="898.3" y1="361.7" x2="899.7" y2="320" stroke="#cb4cd9"/><line x1="899.7" y1="320" x2="900.7" y2="433.3" stroke="#dd48c4"/><line x1="900.7" y1="433.3" x2="902" y2="363.3" stroke="#b156f1"/><line x1="902" y1="363.3" x2="903.3" y2="433.3" stroke="#ca4cda"/><line x1="903.3" y1="433.3" x2="904.7" y2="368.3" stroke="#b156f1"/><line x1="904.7" y1="368.3" x2="906" y2="440" stroke="#c84ddb"/><line x1="906" y1="440" x2="907.3" y2="413.3" stroke="#af57f3"/><line x1="907.3" y1="413.3" x2="908.7" y2="440" stroke="#b853ea"/><line x1="908.7" y1="440" x2="910" y2="456.7" stroke="#af57f3"/><line x1="910" y1="456.7" x2="911.7" y2="456.7" stroke="#a85af7"/><line x1="911.7" y1="456.7" x2="913" y2="420" stroke="#a85af7"/><line x1="913" y1="420" x2="914.3" y2="440" stroke="#b654ed"/><line x1="914.3" y1="440" x2="915.7" y2="420" stroke="#af57f3"/><line x1="915.7" y1="420" x2="917" y2="383.3" stroke="#b654ed"/><line x1="917" y1="383.3" x2="918.3" y2="406.7" stroke="#c34fe0"/><line x1="918.3" y1="406.7" x2="919.7" y2="371.7" stroke="#bb52e8"/><line x1="919.7" y1="371.7" x2="921" y2="385" stroke="#c74ddc"/><line x1="921" y1="385" x2="922.3" y2="368.3" stroke="#c24fe1"/><line x1="922.3" y1="368.3" x2="923.7" y2="385" stroke="#c84ddb"/><line x1="923.7" y1="385" x2="925" y2="365" stroke="#c24fe1"/><line x1="925" y1="365" x2="926.3" y2="373.3" stroke="#ca4cda"/><line x1="926.3" y1="373.3" x2="927.7" y2="351.7" stroke="#c74ddd"/><line x1="927.7" y1="351.7" x2="928.7" y2="315" stroke="#cf4bd5"/><line x1="928.7" y1="315" x2="930" y2="296.7" stroke="#de47c3"/><line x1="930" y1="296.7" x2="931.3" y2="274.2" stroke="#e246bc"/><line x1="931.3" y1="274.2" x2="932.7" y2="303.3" stroke="#e745b4"/><line x1="932.7" y1="303.3" x2="934" y2="274.2" stroke="#e147be"/><line x1="934" y1="274.2" x2="935.3" y2="303.3" stroke="#e745b4"/><line x1="935.3" y1="303.3" x2="936.7" y2="288.3" stroke="#e147be"/><line x1="936.7" y1="288.3" x2="938" y2="313.3" stroke="#e446b9"/><line x1="938" y1="313.3" x2="939.3" y2="280" stroke="#df47c2"/><line x1="939.3" y1="280" x2="940.7" y2="313.3" stroke="#e645b6"/><line x1="940.7" y1="313.3" x2="942" y2="280" stroke="#df47c2"/><line x1="942" y1="280" x2="943.3" y2="313.3" stroke="#e645b6"/><line x1="943.3" y1="313.3" x2="944.7" y2="280" stroke="#df47c2"/><line x1="944.7" y1="280" x2="946" y2="313.3" stroke="#e645b6"/><line x1="946" y1="313.3" x2="947" y2="256.7" stroke="#df47c2"/><line x1="947" y1="256.7" x2="948.3" y2="296.7" stroke="#eb43ae"/><line x1="948.3" y1="296.7" x2="949.7" y2="256.7" stroke="#e246bc"/><line x1="949.7" y1="256.7" x2="951" y2="313.3" stroke="#eb43ae"/><line x1="951" y1="313.3" x2="952.3" y2="256.7" stroke="#df47c2"/><line x1="952.3" y1="256.7" x2="953.7" y2="266.7" stroke="#eb43ae"/><line x1="953.7" y1="266.7" x2="955" y2="208.3" stroke="#e944b1"/><line x1="955" y1="208.3" x2="956.3" y2="295" stroke="#f63f9b"/><line x1="956.3" y1="295" x2="957.7" y2="208.3" stroke="#e346bb"/><line x1="957.7" y1="208.3" x2="959" y2="295" stroke="#f63f9b"/><line x1="959" y1="295" x2="960.3" y2="243.3" stroke="#e346bb"/><line x1="960.3" y1="243.3" x2="961.7" y2="271.7" stroke="#ee42a8"/><line x1="961.7" y1="271.7" x2="963" y2="243.3" stroke="#e845b3"/><line x1="963" y1="243.3" x2="964.3" y2="271.7" stroke="#ee42a8"/><line x1="964.3" y1="271.7" x2="965.7" y2="220" stroke="#e845b3"/><line x1="965.7" y1="220" x2="967" y2="260" stroke="#f4409f"/><line x1="967" y1="260" x2="968.3" y2="220" stroke="#eb44af"/><line x1="968.3" y1="220" x2="969.7" y2="280" stroke="#f4409f"/><line x1="969.7" y1="280" x2="971" y2="261.7" stroke="#e645b6"/><line x1="971" y1="261.7" x2="972.3" y2="296.7" stroke="#ea44af"/><line x1="972.3" y1="296.7" x2="973.7" y2="273.3" stroke="#e246bc"/><line x1="973.7" y1="273.3" x2="975" y2="306.7" stroke="#e845b4"/><line x1="975" y1="306.7" x2="976.7" y2="306.7" stroke="#e047c0"/><line x1="976.7" y1="306.7" x2="978" y2="280" stroke="#e047c0"/><line x1="978" y1="280" x2="979.3" y2="250" stroke="#e645b6"/><line x1="979.3" y1="250" x2="980.7" y2="296.7" stroke="#ed43ab"/><line x1="980.7" y1="296.7" x2="982" y2="250" stroke="#e246bc"/><line x1="982" y1="250" x2="983.3" y2="296.7" stroke="#ed43ab"/><line x1="983.3" y1="296.7" x2="984.7" y2="271.7" stroke="#e246bc"/><line x1="984.7" y1="271.7" x2="986" y2="296.7" stroke="#e845b3"/><line x1="986" y1="296.7" x2="987.3" y2="273.3" stroke="#e246bc"/><line x1="987.3" y1="273.3" x2="988.7" y2="325" stroke="#e845b4"/><line x1="988.7" y1="325" x2="990" y2="273.3" stroke="#dc48c6"/><line x1="990" y1="273.3" x2="991.3" y2="325" stroke="#e845b4"/><line x1="991.3" y1="325" x2="992.7" y2="280" stroke="#dc48c6"/><line x1="992.7" y1="280" x2="994" y2="296.7" stroke="#e645b6"/><line x1="994" y1="296.7" x2="995.3" y2="268.3" stroke="#e246bc"/><line x1="995.3" y1="268.3" x2="996.7" y2="296.7" stroke="#e944b2"/><line x1="996.7" y1="296.7" x2="998" y2="268.3" stroke="#e246bc"/><line x1="998" y1="268.3" x2="999.3" y2="323.3" stroke="#e944b2"/><line x1="999.3" y1="323.3" x2="1000.7" y2="273.3" stroke="#dc48c6"/><line x1="1000.7" y1="273.3" x2="1001.7" y2="313.3" stroke="#e845b4"/><line x1="1001.7" y1="313.3" x2="1003.3" y2="356.7" stroke="#df47c2"/><line x1="1003.3" y1="356.7" x2="1005" y2="323.3" stroke="#cd4bd7"/><line x1="1005" y1="323.3" x2="1006" y2="403.3" stroke="#dc48c6"/><line x1="1006" y1="403.3" x2="1007.3" y2="323.3" stroke="#bc52e7"/><line x1="1007.3" y1="323.3" x2="1008.7" y2="353.3" stroke="#dc48c6"/><line x1="1008.7" y1="353.3" x2="1010" y2="308.3" stroke="#ce4bd6"/><line x1="1010" y1="308.3" x2="1011.3" y2="331.7" stroke="#e047c0"/><line x1="1011.3" y1="331.7" x2="1012.7" y2="310" stroke="#d949ca"/><line x1="1012.7" y1="310" x2="1014" y2="340" stroke="#df47c1"/><line x1="1014" y1="340" x2="1015.3" y2="315" stroke="#d549ce"/><line x1="1015.3" y1="315" x2="1016.7" y2="356.7" stroke="#de47c3"/><line x1="1016.7" y1="356.7" x2="1018" y2="345" stroke="#cd4bd7"/><line x1="1018" y1="345" x2="1019.3" y2="421.7" stroke="#d24ad1"/><line x1="1019.3" y1="421.7" x2="1020.3" y2="345" stroke="#b554ed"/><line x1="1020.3" y1="345" x2="1021.3" y2="487.5" stroke="#d24ad1"/><line x1="1021.3" y1="487.5" x2="1023" y2="473.3" stroke="#9c63fa"/><line x1="1023" y1="473.3" x2="1024.3" y2="487.5" stroke="#a15ff9"/><line x1="1024.3" y1="487.5" x2="1025" y2="346.7" stroke="#9c63fa"/><line x1="1025" y1="346.7" x2="1026.3" y2="413.3" stroke="#d14ad2"/><line x1="1026.3" y1="413.3" x2="1027.7" y2="323.3" stroke="#b853ea"/><line x1="1027.7" y1="323.3" x2="1029" y2="416.7" stroke="#dc48c6"/><line x1="1029" y1="416.7" x2="1030.3" y2="340" stroke="#b754ec"/><line x1="1030.3" y1="340" x2="1031.7" y2="428.3" stroke="#d549ce"/><line x1="1031.7" y1="428.3" x2="1033" y2="350" stroke="#b355ef"/><line x1="1033" y1="350" x2="1034.3" y2="406.7" stroke="#d04ad4"/><line x1="1034.3" y1="406.7" x2="1035.7" y2="361.7" stroke="#bb52e8"/><line x1="1035.7" y1="361.7" x2="1037" y2="306.7" stroke="#cb4cd9"/><line x1="1037" y1="306.7" x2="1038.3" y2="326.7" stroke="#e047c0"/><line x1="1038.3" y1="326.7" x2="1039.7" y2="303.3" stroke="#db48c7"/><line x1="1039.7" y1="303.3" x2="1041" y2="323.3" stroke="#e147be"/><line x1="1041" y1="323.3" x2="1042.3" y2="288.3" stroke="#dc48c6"/><line x1="1042.3" y1="288.3" x2="1043.7" y2="315" stroke="#e446b9"/><line x1="1043.7" y1="315" x2="1045" y2="288.3" stroke="#de47c3"/><line x1="1045" y1="288.3" x2="1046.3" y2="306.7" stroke="#e446b9"/><line x1="1046.3" y1="306.7" x2="1047.7" y2="290" stroke="#e047c0"/><line x1="1047.7" y1="290" x2="1049" y2="315" stroke="#e446ba"/><line x1="1049" y1="315" x2="1050.3" y2="293.3" stroke="#de47c3"/><line x1="1050.3" y1="293.3" x2="1051.7" y2="313.3" stroke="#e346bb"/><line x1="1051.7" y1="313.3" x2="1053" y2="300" stroke="#df47c2"/><line x1="1053" y1="300" x2="1054.3" y2="313.3" stroke="#e246bd"/><line x1="1054.3" y1="313.3" x2="1055.7" y2="306.7" stroke="#df47c2"/><line x1="1055.7" y1="306.7" x2="1057" y2="311.7" stroke="#e047c0"/><line x1="1057" y1="311.7" x2="1058.3" y2="280" stroke="#df47c1"/><line x1="1058.3" y1="280" x2="1059.7" y2="306.7" stroke="#e645b6"/><line x1="1059.7" y1="306.7" x2="1061" y2="279.2" stroke="#e047c0"/><line x1="1061" y1="279.2" x2="1062.3" y2="306.7" stroke="#e645b6"/><line x1="1062.3" y1="306.7" x2="1063.7" y2="280" stroke="#e047c0"/><line x1="1063.7" y1="280" x2="1065" y2="323.3" stroke="#e645b6"/><line x1="1065" y1="323.3" x2="1066.3" y2="296.7" stroke="#dc48c6"/><line x1="1066.3" y1="296.7" x2="1067.7" y2="326.7" stroke="#e246bc"/><line x1="1067.7" y1="326.7" x2="1069" y2="301.7" stroke="#db48c7"/><line x1="1069" y1="301.7" x2="1070.3" y2="326.7" stroke="#e147be"/><line x1="1070.3" y1="326.7" x2="1071.7" y2="303.3" stroke="#db48c7"/><line x1="1071.7" y1="303.3" x2="1073" y2="360" stroke="#e147be"/><line x1="1073" y1="360" x2="1074.3" y2="305" stroke="#cb4cd9"/><line x1="1074.3" y1="305" x2="1075.7" y2="363.3" stroke="#e047bf"/><line x1="1075.7" y1="363.3" x2="1077" y2="366.7" stroke="#ca4cda"/><line x1="1077" y1="366.7" x2="1078.3" y2="416.7" stroke="#c94ddb"/><line x1="1078.3" y1="416.7" x2="1079.7" y2="370" stroke="#b754ec"/><line x1="1079.7" y1="370" x2="1081" y2="436.7" stroke="#c84ddc"/><line x1="1081" y1="436.7" x2="1081" y2="436.7" stroke="#b056f2"/><line x1="1081" y1="436.7" x2="1081.7" y2="567.5" stroke="#b056f2"/><line x1="1081.7" y1="567.5" x2="1083.3" y2="543.3" stroke="#7f74ff"/><line x1="1083.3" y1="543.3" x2="1084.7" y2="567.5" stroke="#8671ff"/><line x1="1084.7" y1="567.5" x2="1086" y2="546.7" stroke="#7f74ff"/><line x1="1086" y1="546.7" x2="1087" y2="465" stroke="#8572ff"/><line x1="1087" y1="465" x2="1088" y2="567.5" stroke="#a55df8"/><line x1="1088" y1="567.5" x2="1089.7" y2="428.3" stroke="#7f74ff"/><line x1="1089.7" y1="428.3" x2="1090.7" y2="430" stroke="#b355ef"/><line x1="1090.7" y1="430" x2="1091.7" y2="483.3" stroke="#b255f0"/><line x1="1091.7" y1="483.3" x2="1093" y2="573.3" stroke="#9d62fa"/><line x1="1093" y1="573.3" x2="1094.3" y2="591.7" stroke="#7d75ff"/><line x1="1094.3" y1="591.7" x2="1096" y2="591.7" stroke="#7877ff"/><line x1="1096" y1="591.7" x2="1097.3" y2="573.3" stroke="#7877ff"/><line x1="1097.3" y1="573.3" x2="1098.7" y2="596.7" stroke="#7d75ff"/><line x1="1098.7" y1="596.7" x2="1100" y2="597.5" stroke="#7778ff"/><line x1="1100" y1="597.5" x2="1101.3" y2="580" stroke="#7778ff"/><line x1="1101.3" y1="580" x2="1102.7" y2="597.5" stroke="#7c76ff"/><line x1="1102.7" y1="597.5" x2="1103.7" y2="435" stroke="#7778ff"/><line x1="1103.7" y1="435" x2="1105" y2="333.3" stroke="#b156f2"/><line x1="1105" y1="333.3" x2="1105.3" y2="335" stroke="#d849cb"/><line x1="1105.3" y1="335" x2="1107" y2="386.7" stroke="#d749cc"/><line x1="1107" y1="386.7" x2="1108.3" y2="320" stroke="#c24fe1"/><line x1="1108.3" y1="320" x2="1109.7" y2="303.3" stroke="#dd48c4"/><line x1="1109.7" y1="303.3" x2="1111" y2="303.3" stroke="#e147be"/><line x1="1111" y1="303.3" x2="1112.3" y2="326.7" stroke="#e147be"/><line x1="1112.3" y1="326.7" x2="1113.7" y2="336.7" stroke="#db48c7"/><line x1="1113.7" y1="336.7" x2="1115" y2="313.3" stroke="#d649cd"/><line x1="1115" y1="313.3" x2="1116.3" y2="336.7" stroke="#df47c2"/><line x1="1116.3" y1="336.7" x2="1117.7" y2="303.3" stroke="#d649cd"/><line x1="1117.7" y1="303.3" x2="1119" y2="303.3" stroke="#e147be"/><line x1="1119" y1="303.3" x2="1120.3" y2="303.3" stroke="#e147be"/><line x1="1120.3" y1="303.3" x2="1121.7" y2="343.3" stroke="#e147be"/><line x1="1121.7" y1="343.3" x2="1123" y2="380" stroke="#d34ad0"/><line x1="1123" y1="380" x2="1125" y2="525" stroke="#c44edf"/><line x1="1125" y1="525" x2="1126.7" y2="645.8" stroke="#8c6dfe"/><line x1="1126.7" y1="645.8" x2="1128.7" y2="645" stroke="#647eff"/><line x1="1128.7" y1="645" x2="1130" y2="460" stroke="#657eff"/><line x1="1130" y1="460" x2="1131.7" y2="460" stroke="#a75bf7"/><line x1="1131.7" y1="460" x2="1133.3" y2="627.5" stroke="#a75bf7"/><line x1="1133.3" y1="627.5" x2="1134.7" y2="596.7" stroke="#6f7cff"/><line x1="1134.7" y1="596.7" x2="1136" y2="597.5" stroke="#7778ff"/><line x1="1136" y1="597.5" x2="1137.3" y2="561.7" stroke="#7778ff"/><line x1="1137.3" y1="561.7" x2="1138.7" y2="597.5" stroke="#8174ff"/><line x1="1138.7" y1="597.5" x2="1140" y2="561.7" stroke="#7778ff"/><line x1="1140" y1="561.7" x2="1141.3" y2="597.5" stroke="#8174ff"/><line x1="1141.3" y1="597.5" x2="1142.7" y2="561.7" stroke="#7778ff"/><line x1="1142.7" y1="561.7" x2="1144" y2="591.7" stroke="#8174ff"/><line x1="1144" y1="591.7" x2="1145.3" y2="546.7" stroke="#7877ff"/><line x1="1145.3" y1="546.7" x2="1146.7" y2="591.7" stroke="#8572ff"/><line x1="1146.7" y1="591.7" x2="1148.3" y2="411.7" stroke="#7877ff"/><line x1="1148.3" y1="411.7" x2="1150" y2="411.7" stroke="#b953ea"/><line x1="1150" y1="411.7" x2="1151.3" y2="458.3" stroke="#b953ea"/><line x1="1151.3" y1="458.3" x2="1152.7" y2="563.3" stroke="#a85bf7"/><line x1="1152.7" y1="563.3" x2="1153.3" y2="573.3" stroke="#8074ff"/><line x1="1153.3" y1="573.3" x2="1155" y2="546.7" stroke="#7d75ff"/><line x1="1155" y1="546.7" x2="1156.3" y2="573.3" stroke="#8572ff"/><line x1="1156.3" y1="573.3" x2="1157.7" y2="591.7" stroke="#7d75ff"/><line x1="1157.7" y1="591.7" x2="1159" y2="591.7" stroke="#7877ff"/><line x1="1159" y1="591.7" x2="1160.3" y2="573.3" stroke="#7877ff"/><line x1="1160.3" y1="573.3" x2="1161.7" y2="615.8" stroke="#7d75ff"/><line x1="1161.7" y1="615.8" x2="1163.3" y2="615.8" stroke="#727bff"/><line x1="1163.3" y1="615.8" x2="1165" y2="615.8" stroke="#727bff"/><line x1="1165" y1="615.8" x2="1166.3" y2="563.3" stroke="#727bff"/><line x1="1166.3" y1="563.3" x2="1167.7" y2="591.7" stroke="#8074ff"/><line x1="1167.7" y1="591.7" x2="1169" y2="546.7" stroke="#7877ff"/><line x1="1169" y1="546.7" x2="1170.3" y2="561.7" stroke="#8572ff"/><line x1="1170.3" y1="561.7" x2="1171.7" y2="526.7" stroke="#8174ff"/><line x1="1171.7" y1="526.7" x2="1173" y2="549.2" stroke="#8b6efe"/><line x1="1173" y1="549.2" x2="1174.3" y2="480" stroke="#8472ff"/><line x1="1174.3" y1="480" x2="1175.7" y2="549.2" stroke="#9f61f9"/><line x1="1175.7" y1="549.2" x2="1177" y2="476.7" stroke="#8472ff"/><line x1="1177" y1="476.7" x2="1178.3" y2="549.2" stroke="#a060f9"/><line x1="1178.3" y1="549.2" x2="1179.7" y2="430" stroke="#8472ff"/><line x1="1179.7" y1="430" x2="1181" y2="463.3" stroke="#b255f0"/><line x1="1181" y1="463.3" x2="1182.3" y2="421.7" stroke="#a65cf8"/><line x1="1182.3" y1="421.7" x2="1183.7" y2="446.7" stroke="#b554ed"/><line x1="1183.7" y1="446.7" x2="1185" y2="380" stroke="#ac58f6"/><line x1="1185" y1="380" x2="1186.3" y2="365" stroke="#c44edf"/><line x1="1186.3" y1="365" x2="1187.7" y2="443.3" stroke="#ca4cda"/><line x1="1187.7" y1="443.3" x2="1189" y2="364.2" stroke="#ae57f4"/><line x1="1189" y1="364.2" x2="1190.3" y2="365" stroke="#ca4cda"/><line x1="1190.3" y1="365" x2="1191.7" y2="446.7" stroke="#ca4cda"/><line x1="1191.7" y1="446.7" x2="1193" y2="523.3" stroke="#ac58f6"/><line x1="1193" y1="523.3" x2="1194.7" y2="523.3" stroke="#8d6dfe"/><line x1="1194.7" y1="523.3" x2="1196" y2="448.3" stroke="#8d6dfe"/><line x1="1196" y1="448.3" x2="1197.3" y2="496.7" stroke="#ac58f6"/><line x1="1197.3" y1="496.7" x2="1198.7" y2="448.3" stroke="#9866fb"/><line x1="1198.7" y1="448.3" x2="1200" y2="553.3" stroke="#ac58f6"/><line x1="1200" y1="553.3" x2="1202" y2="553.3" stroke="#8372ff"/><line x1="1202" y1="553.3" x2="1203.3" y2="456.7" stroke="#8372ff"/><line x1="1203.3" y1="456.7" x2="1204.7" y2="446.7" stroke="#a85af7"/><line x1="1204.7" y1="446.7" x2="1206" y2="356.7" stroke="#ac58f6"/><line x1="1206" y1="356.7" x2="1207.3" y2="310" stroke="#cd4bd7"/><line x1="1207.3" y1="310" x2="1208.3" y2="310" stroke="#df47c1"/><line x1="1208.3" y1="310" x2="1209.7" y2="320" stroke="#df47c1"/><line x1="1209.7" y1="320" x2="1211" y2="310" stroke="#dd48c4"/><line x1="1211" y1="310" x2="1212.3" y2="320" stroke="#df47c1"/><line x1="1212.3" y1="320" x2="1213.7" y2="310" stroke="#dd48c4"/><line x1="1213.7" y1="310" x2="1215" y2="330" stroke="#df47c1"/><line x1="1215" y1="330" x2="1216.3" y2="313.3" stroke="#d949c9"/><line x1="1216.3" y1="313.3" x2="1217.7" y2="330" stroke="#df47c2"/><line x1="1217.7" y1="330" x2="1219" y2="303.3" stroke="#d949c9"/><line x1="1219" y1="303.3" x2="1220.3" y2="315" stroke="#e147be"/><line x1="1220.3" y1="315" x2="1221.7" y2="303.3" stroke="#de47c3"/><line x1="1221.7" y1="303.3" x2="1223" y2="285" stroke="#e147be"/><line x1="1223" y1="285" x2="1224.3" y2="315" stroke="#e545b8"/><line x1="1224.3" y1="315" x2="1225.7" y2="285" stroke="#de47c3"/><line x1="1225.7" y1="285" x2="1227" y2="298.3" stroke="#e545b8"/><line x1="1227" y1="298.3" x2="1228.3" y2="323.3" stroke="#e246bd"/><line x1="1228.3" y1="323.3" x2="1229.7" y2="326.7" stroke="#dc48c6"/><line x1="1229.7" y1="326.7" x2="1231" y2="286.7" stroke="#db48c7"/><line x1="1231" y1="286.7" x2="1232.3" y2="323.3" stroke="#e546b8"/><line x1="1232.3" y1="323.3" x2="1233.7" y2="286.7" stroke="#dc48c6"/><line x1="1233.7" y1="286.7" x2="1235" y2="280" stroke="#e546b8"/><line x1="1235" y1="280" x2="1236.3" y2="295" stroke="#e645b6"/><line x1="1236.3" y1="295" x2="1237.7" y2="268.3" stroke="#e346bb"/><line x1="1237.7" y1="268.3" x2="1239" y2="218.3" stroke="#e944b2"/><line x1="1239" y1="218.3" x2="1240.3" y2="263.3" stroke="#f4409f"/><line x1="1240.3" y1="263.3" x2="1241.7" y2="218.3" stroke="#ea44b0"/><line x1="1241.7" y1="218.3" x2="1243" y2="253.3" stroke="#f4409f"/><line x1="1243" y1="253.3" x2="1244.3" y2="207.5" stroke="#ec43ac"/><line x1="1244.3" y1="207.5" x2="1245.7" y2="250" stroke="#f73f9a"/><line x1="1245.7" y1="250" x2="1247" y2="207.5" stroke="#ed43ab"/><line x1="1247" y1="207.5" x2="1248.3" y2="236.7" stroke="#f73f9a"/><line x1="1248.3" y1="236.7" x2="1249.7" y2="183.3" stroke="#f041a6"/><line x1="1249.7" y1="183.3" x2="1251" y2="182.5" stroke="#fd3c91"/><line x1="1251" y1="182.5" x2="1252.3" y2="253.3" stroke="#fd3c91"/><line x1="1252.3" y1="253.3" x2="1253.7" y2="263.3" stroke="#ec43ac"/><line x1="1253.7" y1="263.3" x2="1255" y2="293.3" stroke="#ea44b0"/><line x1="1255" y1="293.3" x2="1256.3" y2="243.3" stroke="#e346bb"/><line x1="1256.3" y1="243.3" x2="1257.7" y2="286.7" stroke="#ee42a8"/><line x1="1257.7" y1="286.7" x2="1259" y2="243.3" stroke="#e546b8"/><line x1="1259" y1="243.3" x2="1260.3" y2="278.3" stroke="#ee42a8"/><line x1="1260.3" y1="278.3" x2="1261.7" y2="290" stroke="#e745b5"/><line x1="1261.7" y1="290" x2="1263" y2="243.3" stroke="#e446ba"/><line x1="1263" y1="243.3" x2="1264.3" y2="313.3" stroke="#ee42a8"/><line x1="1264.3" y1="313.3" x2="1265.7" y2="243.3" stroke="#df47c2"/><line x1="1265.7" y1="243.3" x2="1267" y2="313.3" stroke="#ee42a8"/><line x1="1267" y1="313.3" x2="1268.3" y2="273.3" stroke="#df47c2"/><line x1="1268.3" y1="273.3" x2="1269.7" y2="300" stroke="#e845b4"/><line x1="1269.7" y1="300" x2="1271" y2="250" stroke="#e246bd"/><line x1="1271" y1="250" x2="1272.3" y2="300" stroke="#ed43ab"/><line x1="1272.3" y1="300" x2="1273.7" y2="250" stroke="#e246bd"/><line x1="1273.7" y1="250" x2="1275" y2="286.7" stroke="#ed43ab"/><line x1="1275" y1="286.7" x2="1276.3" y2="225" stroke="#e546b8"/><line x1="1276.3" y1="225" x2="1277.7" y2="225" stroke="#f340a1"/><line x1="1277.7" y1="225" x2="1279" y2="260" stroke="#f340a1"/><line x1="1279" y1="260" x2="1280.3" y2="300" stroke="#eb44af"/><line x1="1280.3" y1="300" x2="1281.7" y2="306.7" stroke="#e246bd"/><line x1="1281.7" y1="306.7" x2="1283" y2="296.7" stroke="#e047c0"/><line x1="1283" y1="296.7" x2="1284.3" y2="325" stroke="#e246bc"/><line x1="1284.3" y1="325" x2="1285.7" y2="275" stroke="#dc48c6"/><line x1="1285.7" y1="275" x2="1287" y2="320" stroke="#e745b4"/><line x1="1287" y1="320" x2="1288.3" y2="273.3" stroke="#dd48c4"/><line x1="1288.3" y1="273.3" x2="1289.7" y2="313.3" stroke="#e845b4"/><line x1="1289.7" y1="313.3" x2="1291" y2="310" stroke="#df47c2"/><line x1="1291" y1="310" x2="1292.3" y2="361.7" stroke="#df47c1"/><line x1="1292.3" y1="361.7" x2="1293.7" y2="361.7" stroke="#cb4cd9"/><line x1="1293.7" y1="361.7" x2="1295" y2="350" stroke="#cb4cd9"/><line x1="1295" y1="350" x2="1296.3" y2="303.3" stroke="#d04ad4"/><line x1="1296.3" y1="303.3" x2="1297.7" y2="326.7" stroke="#e147be"/><line x1="1297.7" y1="326.7" x2="1299" y2="306.7" stroke="#db48c7"/><line x1="1299" y1="306.7" x2="1300.3" y2="280" stroke="#e047c0"/><line x1="1300.3" y1="280" x2="1301.7" y2="326.7" stroke="#e645b6"/><line x1="1301.7" y1="326.7" x2="1303" y2="280" stroke="#db48c7"/><line x1="1303" y1="280" x2="1304.3" y2="333.3" stroke="#e645b6"/><line x1="1304.3" y1="333.3" x2="1305.7" y2="378.3" stroke="#d849cb"/><line x1="1305.7" y1="378.3" x2="1306" y2="446.7" stroke="#c54edf"/><line x1="1306" y1="446.7" x2="1307.5" y2="378.3" stroke="#ac58f6"/><line x1="1307.5" y1="378.3" x2="1308.8" y2="328.3" stroke="#c54edf"/><line x1="1308.8" y1="328.3" x2="1310.2" y2="298.3" stroke="#da48c8"/><line x1="1310.2" y1="298.3" x2="1311.5" y2="328.3" stroke="#e246bd"/><line x1="1311.5" y1="328.3" x2="1312.8" y2="286.7" stroke="#da48c8"/><line x1="1312.8" y1="286.7" x2="1314.2" y2="283.3" stroke="#e546b8"/><line x1="1314.2" y1="283.3" x2="1315.5" y2="270" stroke="#e545b7"/><line x1="1315.5" y1="270" x2="1316.8" y2="243.3" stroke="#e844b2"/><line x1="1316.8" y1="243.3" x2="1318.2" y2="295" stroke="#ee42a8"/><line x1="1318.2" y1="295" x2="1319.5" y2="243.3" stroke="#e346bb"/><line x1="1319.5" y1="243.3" x2="1320.8" y2="300" stroke="#ee42a8"/><line x1="1320.8" y1="300" x2="1322.2" y2="313.3" stroke="#e246bd"/><line x1="1322.2" y1="313.3" x2="1323.5" y2="296.7" stroke="#df47c2"/><line x1="1323.5" y1="296.7" x2="1324.8" y2="336.7" stroke="#e246bc"/><line x1="1324.8" y1="336.7" x2="1326.2" y2="291.7" stroke="#d649cd"/><line x1="1326.2" y1="291.7" x2="1327.5" y2="336.7" stroke="#e346ba"/><line x1="1327.5" y1="336.7" x2="1328.8" y2="291.7" stroke="#d649cd"/><line x1="1328.8" y1="291.7" x2="1330.2" y2="336.7" stroke="#e346ba"/><line x1="1330.2" y1="336.7" x2="1331.5" y2="315" stroke="#d649cd"/><line x1="1331.5" y1="315" x2="1332.8" y2="316.7" stroke="#de47c3"/><line x1="1332.8" y1="316.7" x2="1332.5" y2="481.7" stroke="#de47c3"/><line x1="1332.5" y1="481.7" x2="1333.8" y2="455" stroke="#9e61fa"/><line x1="1333.8" y1="455" x2="1335" y2="481.7" stroke="#a95af7"/><line x1="1335" y1="481.7" x2="1336.7" y2="466.7" stroke="#9e61fa"/><line x1="1336.7" y1="466.7" x2="1338.3" y2="486.7" stroke="#a45df8"/><line x1="1338.3" y1="486.7" x2="1340" y2="486.7" stroke="#9c63fa"/><line x1="1340" y1="486.7" x2="1341.3" y2="448.3" stroke="#9c63fa"/><line x1="1341.3" y1="448.3" x2="1342.7" y2="470" stroke="#ac58f6"/><line x1="1342.7" y1="470" x2="1344" y2="425" stroke="#a35ef8"/><line x1="1344" y1="425" x2="1345.3" y2="463.3" stroke="#b455ee"/><line x1="1345.3" y1="463.3" x2="1346.7" y2="425" stroke="#a65cf8"/><line x1="1346.7" y1="425" x2="1348" y2="480" stroke="#b455ee"/><line x1="1348" y1="480" x2="1349.3" y2="420" stroke="#9f61f9"/><line x1="1349.3" y1="420" x2="1350.7" y2="480" stroke="#b654ed"/><line x1="1350.7" y1="480" x2="1352" y2="420" stroke="#9f61f9"/><line x1="1352" y1="420" x2="1353.3" y2="420" stroke="#b654ed"/><line x1="1353.3" y1="420" x2="1354.7" y2="450" stroke="#b654ed"/><line x1="1354.7" y1="450" x2="1355.3" y2="597.5" stroke="#ab59f6"/><line x1="1355.3" y1="597.5" x2="1356.7" y2="686.7" stroke="#7778ff"/><line x1="1356.7" y1="686.7" x2="1358.7" y2="686.7" stroke="#4d82ff"/><line x1="1358.7" y1="686.7" x2="1360.3" y2="550" stroke="#4d82ff"/><line x1="1360.3" y1="550" x2="1362" y2="656.7" stroke="#8472ff"/><line x1="1362" y1="656.7" x2="1364.3" y2="656.7" stroke="#5e7fff"/><line x1="1364.3" y1="656.7" x2="1365.7" y2="543.3" stroke="#5e7fff"/><line x1="1365.7" y1="543.3" x2="1367" y2="626.7" stroke="#8671ff"/><line x1="1367" y1="626.7" x2="1369" y2="626.7" stroke="#6f7cff"/><line x1="1369" y1="626.7" x2="1370.3" y2="543.3" stroke="#6f7cff"/><line x1="1370.3" y1="543.3" x2="1371.7" y2="626.7" stroke="#8671ff"/><line x1="1371.7" y1="626.7" x2="1373" y2="466.7" stroke="#6f7cff"/><line x1="1373" y1="466.7" x2="1373" y2="470.8" stroke="#a45df8"/><line x1="1373" y1="470.8" x2="1374.3" y2="585.8" stroke="#a25ef8"/><line x1="1374.3" y1="585.8" x2="1375.7" y2="473.3" stroke="#7a77ff"/><line x1="1375.7" y1="473.3" x2="1376.7" y2="585.8" stroke="#a15ff9"/><line x1="1376.7" y1="585.8" x2="1378" y2="566.7" stroke="#7a77ff"/><line x1="1378" y1="566.7" x2="1379.3" y2="567.5" stroke="#7f74ff"/><line x1="1379.3" y1="567.5" x2="1380.3" y2="455" stroke="#7f74ff"/><line x1="1380.3" y1="455" x2="1381.7" y2="567.5" stroke="#a95af7"/><line x1="1381.7" y1="567.5" x2="1383" y2="455" stroke="#7f74ff"/><line x1="1383" y1="455" x2="1384.3" y2="567.5" stroke="#a95af7"/><line x1="1384.3" y1="567.5" x2="1385.7" y2="466.7" stroke="#7f74ff"/><line x1="1385.7" y1="466.7" x2="1387" y2="567.5" stroke="#a45df8"/><line x1="1387" y1="567.5" x2="1388.3" y2="466.7" stroke="#7f74ff"/><line x1="1388.3" y1="466.7" x2="1389.7" y2="591.7" stroke="#a45df8"/><line x1="1389.7" y1="591.7" x2="1391" y2="496.7" stroke="#7877ff"/><line x1="1391" y1="496.7" x2="1392.3" y2="591.7" stroke="#9866fb"/><line x1="1392.3" y1="591.7" x2="1393.7" y2="484.2" stroke="#7877ff"/><line x1="1393.7" y1="484.2" x2="1395" y2="597.5" stroke="#9d62fa"/><line x1="1395" y1="597.5" x2="1396.3" y2="484.2" stroke="#7778ff"/><line x1="1396.3" y1="484.2" x2="1397.7" y2="597.5" stroke="#9d62fa"/><line x1="1397.7" y1="597.5" x2="1399" y2="546.7" stroke="#7778ff"/><line x1="1399" y1="546.7" x2="1400.3" y2="640" stroke="#8572ff"/><line x1="1400.3" y1="640" x2="1402.3" y2="640" stroke="#687dff"/><line x1="1402.3" y1="640" x2="1403.7" y2="546.7" stroke="#687dff"/><line x1="1403.7" y1="546.7" x2="1405" y2="640" stroke="#8572ff"/><line x1="1405" y1="640" x2="1406" y2="480" stroke="#687dff"/><line x1="1406" y1="480" x2="1407.3" y2="596.7" stroke="#9f61f9"/><line x1="1407.3" y1="596.7" x2="1408.7" y2="478.3" stroke="#7778ff"/><line x1="1408.7" y1="478.3" x2="1410" y2="573.3" stroke="#9f60f9"/><line x1="1410" y1="573.3" x2="1411.3" y2="513.3" stroke="#7d75ff"/><line x1="1411.3" y1="513.3" x2="1412.7" y2="573.3" stroke="#916afd"/><line x1="1412.7" y1="573.3" x2="1414" y2="530" stroke="#7d75ff"/><line x1="1414" y1="530" x2="1415.3" y2="555" stroke="#8a6fff"/><line x1="1415.3" y1="555" x2="1416.3" y2="463.3" stroke="#8273ff"/><line x1="1416.3" y1="463.3" x2="1417.7" y2="314.2" stroke="#a65cf8"/><line x1="1417.7" y1="314.2" x2="1419.3" y2="314.2" stroke="#de47c2"/><line x1="1419.3" y1="314.2" x2="1422.5" y2="423.3" stroke="#de47c2"/><line x1="1422.5" y1="423.3" x2="1424.2" y2="356.7" stroke="#b555ee"/><line x1="1424.2" y1="356.7" x2="1427.5" y2="428.3" stroke="#cd4bd7"/><line x1="1427.5" y1="428.3" x2="1430" y2="344.2" stroke="#b355ef"/><line x1="1430" y1="344.2" x2="1433.3" y2="434.2" stroke="#d34ad1"/><line x1="1433.3" y1="434.2" x2="1436.7" y2="308.3" stroke="#b156f1"/><line x1="1436.7" y1="308.3" x2="1438" y2="355" stroke="#e047c0"/><line x1="1438" y1="355" x2="1439.3" y2="310" stroke="#cd4bd7"/><line x1="1439.3" y1="310" x2="1440.7" y2="326.7" stroke="#df47c1"/><line x1="1440.7" y1="326.7" x2="1442" y2="304.2" stroke="#db48c7"/><line x1="1442" y1="304.2" x2="1443.3" y2="326.7" stroke="#e147bf"/><line x1="1443.3" y1="326.7" x2="1444.7" y2="304.2" stroke="#db48c7"/><line x1="1444.7" y1="304.2" x2="1446" y2="325" stroke="#e147bf"/><line x1="1446" y1="325" x2="1447.3" y2="301.7" stroke="#dc48c6"/><line x1="1447.3" y1="301.7" x2="1448.7" y2="326.7" stroke="#e147be"/><line x1="1448.7" y1="326.7" x2="1450" y2="304.2" stroke="#db48c7"/><line x1="1450" y1="304.2" x2="1451.7" y2="280" stroke="#e147bf"/><line x1="1451.7" y1="280" x2="1453.3" y2="280" stroke="#e645b6"/><line x1="1453.3" y1="280" x2="1454.3" y2="348.3" stroke="#e645b6"/><line x1="1454.3" y1="348.3" x2="1455.7" y2="348.3" stroke="#d14ad3"/><line x1="1455.7" y1="348.3" x2="1457" y2="304.2" stroke="#d14ad3"/><line x1="1457" y1="304.2" x2="1458.3" y2="304.2" stroke="#e147bf"/><line x1="1458.3" y1="304.2" x2="1459.7" y2="304.2" stroke="#e147bf"/><line x1="1459.7" y1="304.2" x2="1460.7" y2="386.7" stroke="#e147bf"/><line x1="1460.7" y1="386.7" x2="1462" y2="446.7" stroke="#c24fe1"/><line x1="1462" y1="446.7" x2="1464" y2="363.3" stroke="#ac58f6"/><line x1="1464" y1="363.3" x2="1465.7" y2="365" stroke="#ca4cda"/><line x1="1465.7" y1="365" x2="1467.3" y2="476.7" stroke="#ca4cda"/><line x1="1467.3" y1="476.7" x2="1469.3" y2="476.7" stroke="#a060f9"/><line x1="1469.3" y1="476.7" x2="1470.3" y2="373.3" stroke="#a060f9"/><line x1="1470.3" y1="373.3" x2="1473.3" y2="315" stroke="#c74ddd"/><line x1="1473.3" y1="315" x2="1475" y2="315" stroke="#de47c3"/><line x1="1475" y1="315" x2="1476.3" y2="386.7" stroke="#de47c3"/><line x1="1476.3" y1="386.7" x2="1480" y2="338.3" stroke="#c24fe1"/><line x1="1480" y1="338.3" x2="1481.7" y2="338.3" stroke="#d549ce"/><line x1="1481.7" y1="338.3" x2="1482.7" y2="405" stroke="#d549ce"/><line x1="1482.7" y1="405" x2="1484.3" y2="493.3" stroke="#bb52e8"/><line x1="1484.3" y1="493.3" x2="1486.7" y2="493.3" stroke="#9965fb"/><line x1="1486.7" y1="493.3" x2="1488.3" y2="356.7" stroke="#9965fb"/><line x1="1488.3" y1="356.7" x2="1490.3" y2="302.5" stroke="#cd4bd7"/><line x1="1490.3" y1="302.5" x2="1492" y2="302.5" stroke="#e147be"/><line x1="1492" y1="302.5" x2="1493.3" y2="353.3" stroke="#e147be"/><line x1="1493.3" y1="353.3" x2="1494.7" y2="340" stroke="#ce4bd6"/><line x1="1494.7" y1="340" x2="1496" y2="368.3" stroke="#d549ce"/><line x1="1496" y1="368.3" x2="1497.3" y2="368.3" stroke="#c84ddb"/><line x1="1497.3" y1="368.3" x2="1498.7" y2="340" stroke="#c84ddb"/><line x1="1498.7" y1="340" x2="1500" y2="310" stroke="#d549ce"/><line x1="1500" y1="310" x2="1501.3" y2="355" stroke="#df47c1"/><line x1="1501.3" y1="355" x2="1502.7" y2="310" stroke="#cd4bd7"/><line x1="1502.7" y1="310" x2="1504" y2="356.7" stroke="#df47c1"/><line x1="1504" y1="356.7" x2="1505.3" y2="346.7" stroke="#cd4bd7"/><line x1="1505.3" y1="346.7" x2="1506.7" y2="273.3" stroke="#d14ad2"/><line x1="1506.7" y1="273.3" x2="1508.7" y2="272.5" stroke="#e845b4"/><line x1="1508.7" y1="272.5" x2="1510.3" y2="273.3" stroke="#e845b3"/><line x1="1510.3" y1="273.3" x2="1511.7" y2="325" stroke="#e845b4"/><line x1="1511.7" y1="325" x2="1513" y2="304.2" stroke="#dc48c6"/><line x1="1513" y1="304.2" x2="1514.3" y2="326.7" stroke="#e147bf"/><line x1="1514.3" y1="326.7" x2="1515.7" y2="304.2" stroke="#db48c7"/><line x1="1515.7" y1="304.2" x2="1517" y2="320" stroke="#e147bf"/><line x1="1517" y1="320" x2="1518.3" y2="304.2" stroke="#dd48c4"/><line x1="1518.3" y1="304.2" x2="1519.7" y2="326.7" stroke="#e147bf"/><line x1="1519.7" y1="326.7" x2="1521" y2="304.2" stroke="#db48c7"/><line x1="1521" y1="304.2" x2="1522.3" y2="326.7" stroke="#e147bf"/><line x1="1522.3" y1="326.7" x2="1523.7" y2="304.2" stroke="#db48c7"/><line x1="1523.7" y1="304.2" x2="1525" y2="297.5" stroke="#e147bf"/><line x1="1525" y1="297.5" x2="1526.3" y2="297.5" stroke="#e246bc"/><line x1="1526.3" y1="297.5" x2="1527.7" y2="297.5" stroke="#e246bc"/><line x1="1527.7" y1="297.5" x2="1529" y2="313.3" stroke="#e246bc"/><line x1="1529" y1="313.3" x2="1530.3" y2="356.7" stroke="#df47c2"/><line x1="1530.3" y1="356.7" x2="1531.7" y2="426.7" stroke="#cd4bd7"/><line x1="1531.7" y1="426.7" x2="1533.7" y2="427.5" stroke="#b455ef"/><line x1="1533.7" y1="427.5" x2="1535" y2="373.3" stroke="#b355ef"/><line x1="1535" y1="373.3" x2="1537.3" y2="304.2" stroke="#c74ddd"/><line x1="1537.3" y1="304.2" x2="1539.3" y2="371.7" stroke="#e147bf"/><line x1="1539.3" y1="371.7" x2="1541" y2="343.3" stroke="#c74ddc"/><line x1="1541" y1="343.3" x2="1543.3" y2="297.5" stroke="#d34ad0"/><line x1="1543.3" y1="297.5" x2="1545.7" y2="297.5" stroke="#e246bc"/><line x1="1545.7" y1="297.5" x2="1547" y2="363.3" stroke="#e246bc"/><line x1="1547" y1="363.3" x2="1548.3" y2="410" stroke="#ca4cda"/><line x1="1548.3" y1="410" x2="1549.3" y2="480" stroke="#ba53e9"/><line x1="1549.3" y1="480" x2="1550.7" y2="405" stroke="#9f61f9"/><line x1="1550.7" y1="405" x2="1552" y2="480" stroke="#bb52e8"/><line x1="1552" y1="480" x2="1553.3" y2="396.7" stroke="#9f61f9"/><line x1="1553.3" y1="396.7" x2="1554.7" y2="480" stroke="#be51e5"/><line x1="1554.7" y1="480" x2="1556" y2="428.3" stroke="#9f61f9"/><line x1="1556" y1="428.3" x2="1557.3" y2="465" stroke="#b355ef"/><line x1="1557.3" y1="465" x2="1558.7" y2="430" stroke="#a55df8"/><line x1="1558.7" y1="430" x2="1560" y2="466.7" stroke="#b255f0"/><line x1="1560" y1="466.7" x2="1561.3" y2="446.7" stroke="#a45df8"/><line x1="1561.3" y1="446.7" x2="1562.3" y2="511.7" stroke="#ac58f6"/><line x1="1562.3" y1="511.7" x2="1563.7" y2="446.7" stroke="#916afd"/><line x1="1563.7" y1="446.7" x2="1564.7" y2="511.7" stroke="#ac58f6"/><line x1="1564.7" y1="511.7" x2="1566" y2="446.7" stroke="#916afd"/><line x1="1566" y1="446.7" x2="1567" y2="418.3" stroke="#ac58f6"/><line x1="1567" y1="418.3" x2="1568.3" y2="460" stroke="#b754ec"/><line x1="1568.3" y1="460" x2="1569.7" y2="418.3" stroke="#a75bf7"/><line x1="1569.7" y1="418.3" x2="1571" y2="463.3" stroke="#b754ec"/><line x1="1571" y1="463.3" x2="1572.3" y2="481.7" stroke="#a65cf8"/><line x1="1572.3" y1="481.7" x2="1573.7" y2="446.7" stroke="#9e61fa"/><line x1="1573.7" y1="446.7" x2="1574.7" y2="481.7" stroke="#ac58f6"/><line x1="1574.7" y1="481.7" x2="1576" y2="430" stroke="#9e61fa"/><line x1="1576" y1="430" x2="1577" y2="406.7" stroke="#b255f0"/><line x1="1577" y1="406.7" x2="1578.3" y2="446.7" stroke="#bb52e8"/><line x1="1578.3" y1="446.7" x2="1579.7" y2="406.7" stroke="#ac58f6"/><line x1="1579.7" y1="406.7" x2="1581" y2="430" stroke="#bb52e8"/><line x1="1581" y1="430" x2="1582.3" y2="450" stroke="#b255f0"/><line x1="1582.3" y1="450" x2="1583.7" y2="430" stroke="#ab59f6"/><line x1="1583.7" y1="430" x2="1585" y2="453.3" stroke="#b255f0"/><line x1="1585" y1="453.3" x2="1586.3" y2="435" stroke="#aa59f7"/><line x1="1586.3" y1="435" x2="1587.7" y2="480" stroke="#b156f2"/><line x1="1587.7" y1="480" x2="1589" y2="455" stroke="#9f61f9"/><line x1="1589" y1="455" x2="1590.3" y2="488.3" stroke="#a95af7"/><line x1="1590.3" y1="488.3" x2="1591.7" y2="488.3" stroke="#9b63fa"/><line x1="1591.7" y1="488.3" x2="1592.7" y2="578.3" stroke="#9b63fa"/><line x1="1592.7" y1="578.3" x2="1595" y2="578.3" stroke="#7c76ff"/><line x1="1595" y1="578.3" x2="1596.3" y2="448.3" stroke="#7c76ff"/><line x1="1596.3" y1="448.3" x2="1598" y2="368.3" stroke="#ac58f6"/><line x1="1598" y1="368.3" x2="1600" y2="368.3" stroke="#c84ddb"/><line x1="1600" y1="368.3" x2="1601.7" y2="304.2" stroke="#c84ddb"/><line x1="1601.7" y1="304.2" x2="1604.3" y2="304.2" stroke="#e147bf"/><line x1="1604.3" y1="304.2" x2="1605.7" y2="330" stroke="#e147bf"/><line x1="1605.7" y1="330" x2="1607" y2="326.7" stroke="#d949c9"/><line x1="1607" y1="326.7" x2="1608.3" y2="518.3" stroke="#db48c7"/><line x1="1608.3" y1="518.3" x2="1610" y2="518.3" stroke="#8f6cfd"/><line x1="1610" y1="518.3" x2="1611.3" y2="602.5" stroke="#8f6cfd"/><line x1="1611.3" y1="602.5" x2="1612.7" y2="603.3" stroke="#7679ff"/><line x1="1612.7" y1="603.3" x2="1614" y2="521.7" stroke="#7579ff"/><line x1="1614" y1="521.7" x2="1615.3" y2="615" stroke="#8d6cfe"/><line x1="1615.3" y1="615" x2="1617.7" y2="615" stroke="#727aff"/><line x1="1617.7" y1="615" x2="1619" y2="545" stroke="#727aff"/><line x1="1619" y1="545" x2="1620.7" y2="596.7" stroke="#8571ff"/><line x1="1620.7" y1="596.7" x2="1623" y2="596.7" stroke="#7778ff"/><line x1="1623" y1="596.7" x2="1624.3" y2="525" stroke="#7778ff"/><line x1="1624.3" y1="525" x2="1625.7" y2="546.7" stroke="#8c6dfe"/><line x1="1625.7" y1="546.7" x2="1627" y2="443.3" stroke="#8572ff"/><line x1="1627" y1="443.3" x2="1630" y2="443.3" stroke="#ae57f4"/><line x1="1630" y1="443.3" x2="1630" y2="573.2" stroke="#ae57f4"/><line x1="1630" y1="573.2" x2="1632.3" y2="573.2" stroke="#7d75ff"/><line x1="1632.3" y1="573.2" x2="1634.5" y2="497.3" stroke="#7d75ff"/><line x1="1634.5" y1="497.3" x2="1636.8" y2="497.3" stroke="#9766fb"/><line x1="1636.8" y1="497.3" x2="1638.2" y2="624.5" stroke="#9766fb"/><line x1="1638.2" y1="624.5" x2="1641.4" y2="625.7" stroke="#707cff"/><line x1="1641.4" y1="625.7" x2="1643.2" y2="574.5" stroke="#6f7cff"/><line x1="1643.2" y1="574.5" x2="1645" y2="574.5" stroke="#7d75ff"/><line x1="1645" y1="574.5" x2="1645.9" y2="629.1" stroke="#7d75ff"/><line x1="1645.9" y1="629.1" x2="1647.3" y2="674.5" stroke="#6e7cff"/><line x1="1647.3" y1="674.5" x2="1649.5" y2="684.8" stroke="#5481ff"/><line x1="1649.5" y1="684.8" x2="1652.5" y2="660.9" stroke="#4e82ff"/><line x1="1652.5" y1="660.9" x2="1655.9" y2="681.4" stroke="#5c80ff"/><line x1="1655.9" y1="681.4" x2="1658.6" y2="679.1" stroke="#5082ff"/><line x1="1658.6" y1="679.1" x2="1660.5" y2="658.6" stroke="#5282ff"/><line x1="1660.5" y1="658.6" x2="1662.3" y2="629.1" stroke="#5d7fff"/><line x1="1662.3" y1="629.1" x2="1664.1" y2="583.6" stroke="#6e7cff"/><line x1="1664.1" y1="583.6" x2="1666.4" y2="606.4" stroke="#7b76ff"/><line x1="1666.4" y1="606.4" x2="1668.6" y2="582.5" stroke="#7579ff"/><line x1="1668.6" y1="582.5" x2="1670.9" y2="606.4" stroke="#7b76ff"/><line x1="1670.9" y1="606.4" x2="1672.7" y2="626.8" stroke="#7579ff"/><line x1="1672.7" y1="626.8" x2="1674.5" y2="626.8" stroke="#6f7cff"/><line x1="1674.5" y1="626.8" x2="1676.4" y2="597.3" stroke="#6f7cff"/><line x1="1676.4" y1="597.3" x2="1678.2" y2="575.7" stroke="#7778ff"/><line x1="1678.2" y1="575.7" x2="1680" y2="606.4" stroke="#7d75ff"/><line x1="1680" y1="606.4" x2="1681.8" y2="681.4" stroke="#7579ff"/><line x1="1681.8" y1="681.4" x2="1685" y2="681.4" stroke="#5082ff"/><line x1="1685" y1="681.4" x2="1687.3" y2="649.5" stroke="#5082ff"/><line x1="1687.3" y1="649.5" x2="1689.1" y2="629.1" stroke="#627eff"/><line x1="1689.1" y1="629.1" x2="1690.5" y2="600.7" stroke="#6e7cff"/><line x1="1690.5" y1="600.7" x2="1692.3" y2="626.8" stroke="#7679ff"/><line x1="1692.3" y1="626.8" x2="1694.1" y2="600.7" stroke="#6f7cff"/><line x1="1694.1" y1="600.7" x2="1695.9" y2="626.8" stroke="#7679ff"/><line x1="1695.9" y1="626.8" x2="1697.7" y2="604.1" stroke="#6f7cff"/><line x1="1697.7" y1="604.1" x2="1699.5" y2="622.3" stroke="#7579ff"/><line x1="1699.5" y1="622.3" x2="1701.4" y2="606.4" stroke="#707bff"/><line x1="1701.4" y1="606.4" x2="1702.7" y2="620" stroke="#7579ff"/></g>
<rect x="571" y="955" width="28" height="28" fill="#9f9fc6"/>
<rect x="714" y="955" width="28" height="28" fill="#b1b1d1"/>
<rect x="845" y="955" width="28" height="28" fill="#d0d4d8"/>
<rect x="1018" y="955" width="28" height="28" fill="#ffc4b8"/>
<rect x="1173" y="955" width="28" height="28" fill="#ffa8a8"/>
<g font-family="'DejaVu Sans','Liberation Sans',sans-serif">
<text x="620.5" y="978.5" font-size="27.7" fill="#1f2328">Panic</text>
<text x="763.5" y="978.5" font-size="27.7" fill="#1f2328">Fear</text>
<text x="894" y="978.5" font-size="27.7" fill="#1f2328">Neutral</text>
<text x="1067.5" y="978.5" font-size="27.7" fill="#1f2328">Greed</text>
<text x="1222.5" y="978.5" font-size="27.7" fill="#1f2328">Euphoria</text>
<text x="166" y="827.2" font-size="25" fill="#4a505a" text-anchor="end">-3</text>
<text x="166" y="703.9" font-size="25" fill="#4a505a" text-anchor="end">-2</text>
<text x="166" y="580.6" font-size="25" fill="#4a505a" text-anchor="end">-1</text>
<text x="166" y="457.3" font-size="25" fill="#4a505a" text-anchor="end">0</text>
<text x="166" y="334.0" font-size="25" fill="#4a505a" text-anchor="end">1</text>
<text x="166" y="210.7" font-size="25" fill="#4a505a" text-anchor="end">2</text>
<text x="166" y="87.4" font-size="25" fill="#4a505a" text-anchor="end">3</text>
<text x="374" y="889.8" font-size="25" fill="#4a505a" text-anchor="middle">Oct 2022</text>
<text x="577" y="889.8" font-size="25" fill="#4a505a" text-anchor="middle">Apr 2023</text>
<text x="782" y="889.8" font-size="25" fill="#4a505a" text-anchor="middle">Oct 2023</text>
<text x="986" y="889.8" font-size="25" fill="#4a505a" text-anchor="middle">Apr 2024</text>
<text x="1191" y="889.8" font-size="25" fill="#4a505a" text-anchor="middle">Oct 2024</text>
<text x="1394" y="889.8" font-size="25" fill="#4a505a" text-anchor="middle">Apr 2025</text>
<text x="1599" y="889.8" font-size="25" fill="#4a505a" text-anchor="middle">Oct 2025</text>
<text transform="translate(91,448) rotate(-90)" font-size="30.5" font-weight="bold" fill="#2b303b" text-anchor="middle">Price &amp; Sentiment Momentum (Z-Score)</text>
<text x="184" y="1066" font-size="27.7" fill="#6c757d">Regime Signal: Panic as of 2025-12-31</text>
</g>
</svg></body></html>
